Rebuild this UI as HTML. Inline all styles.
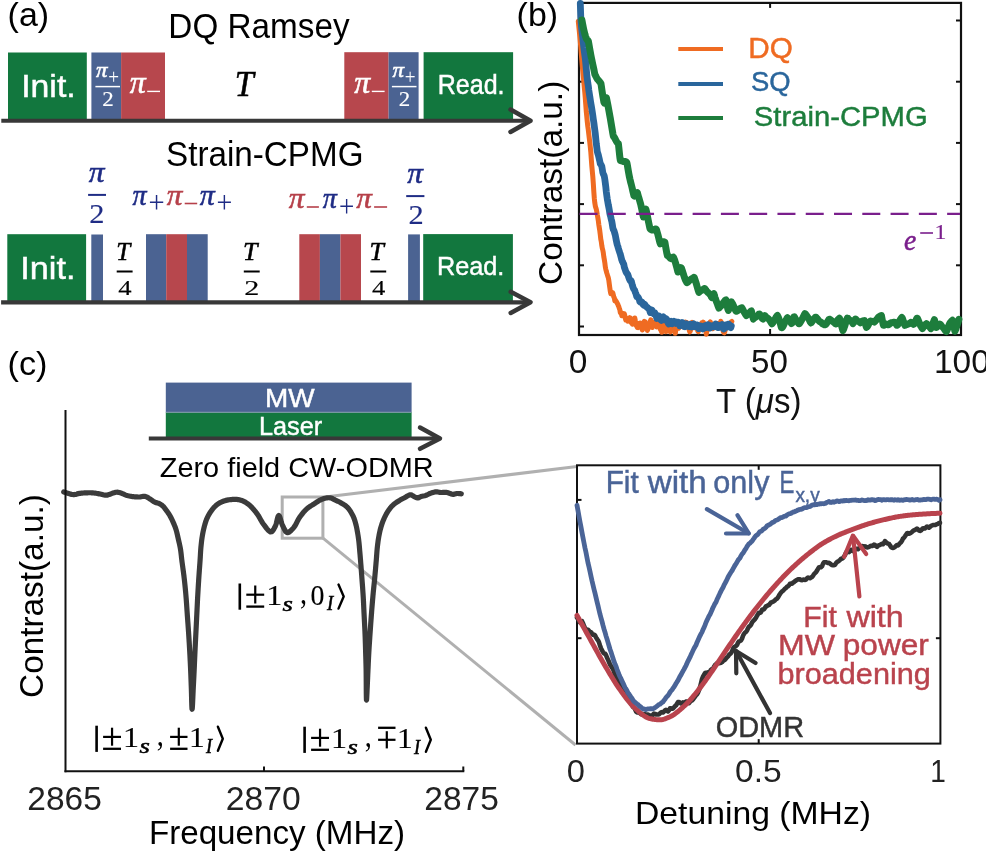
<!DOCTYPE html>
<html><head><meta charset="utf-8"><style>html,body{margin:0;padding:0;background:#fff;}svg{display:block;will-change:transform;}</style></head>
<body><svg width="986" height="851" viewBox="0 0 986 851">
<rect width="986" height="851" fill="#fff"/>
<text transform="translate(7.59,25.80) scale(1.0005,1)" font-family="'Liberation Sans', sans-serif" font-size="33.95" fill="#000">(a)</text>
<text transform="translate(168.37,38.20) scale(0.9665,1)" font-family="'Liberation Sans', sans-serif" font-size="34.45" fill="#000">DQ Ramsey</text>
<rect x="8.00" y="52.50" width="78.80" height="67.50" fill="#12773e"/>
<rect x="91.40" y="52.50" width="29.70" height="67.50" fill="#4b6392"/>
<rect x="121.10" y="52.50" width="43.90" height="67.50" fill="#b7474d"/>
<rect x="344.30" y="52.20" width="44.30" height="67.80" fill="#b7474d"/>
<rect x="388.60" y="52.20" width="30.00" height="67.80" fill="#4b6392"/>
<rect x="423.60" y="52.20" width="89.50" height="67.80" fill="#12773e"/>
<line x1="1.30" y1="120.80" x2="528.00" y2="120.80" stroke="#383838" stroke-width="4" stroke-linecap="butt"/>
<polyline points="510.50,109.50 530.50,120.80 510.50,132.00" fill="none" stroke="#383838" stroke-width="4.5" stroke-linejoin="round" stroke-linecap="round"/>
<text transform="translate(21.18,97.20) scale(1.0923,1)" font-family="'Liberation Sans', sans-serif" font-size="30.96" fill="#fff" stroke="#fff" stroke-width="0.45">Init.</text>
<text transform="translate(437.75,93.80) scale(0.9366,1)" font-family="'Liberation Sans', sans-serif" font-size="26.74" fill="#fff" stroke="#fff" stroke-width="0.45">Read.</text>
<text transform="translate(95.88,76.99) scale(1.0444,1)" font-family="'Liberation Serif', serif" font-style="italic" font-size="21.97" fill="#fff" stroke="#fff" stroke-width="0.55">π</text>
<text transform="translate(108.15,83.76) scale(0.9185,1)" font-family="'Liberation Serif', serif" font-size="20.82" fill="#fff">+</text>
<line x1="95.40" y1="86.60" x2="120.00" y2="86.60" stroke="#fff" stroke-width="1.5" stroke-linecap="butt"/>
<text transform="translate(102.19,106.00) scale(1.1091,1)" font-family="'Liberation Serif', serif" font-size="20.69" fill="#fff" stroke="#fff" stroke-width="0.15">2</text>
<text transform="translate(129.73,93.00) scale(1.0286,1)" font-family="'Liberation Serif', serif" font-style="italic" font-size="30.93" fill="#fff" stroke="#fff" stroke-width="0.55">π</text>
<line x1="147.20" y1="91.40" x2="160.00" y2="91.40" stroke="#fff" stroke-width="1.4" stroke-linecap="butt"/>
<text transform="translate(234.77,95.80) scale(0.9725,1)" font-family="'Liberation Serif', serif" font-style="italic" font-size="34.97" fill="#000" stroke="#000" stroke-width="0.55">T</text>
<text transform="translate(354.33,93.00) scale(1.0286,1)" font-family="'Liberation Serif', serif" font-style="italic" font-size="30.93" fill="#fff" stroke="#fff" stroke-width="0.55">π</text>
<line x1="371.80" y1="91.40" x2="384.60" y2="91.40" stroke="#fff" stroke-width="1.4" stroke-linecap="butt"/>
<text transform="translate(392.38,76.99) scale(1.0444,1)" font-family="'Liberation Serif', serif" font-style="italic" font-size="21.97" fill="#fff" stroke="#fff" stroke-width="0.55">π</text>
<text transform="translate(404.65,83.76) scale(0.9185,1)" font-family="'Liberation Serif', serif" font-size="20.82" fill="#fff">+</text>
<line x1="391.90" y1="86.60" x2="416.50" y2="86.60" stroke="#fff" stroke-width="1.5" stroke-linecap="butt"/>
<text transform="translate(398.69,106.00) scale(1.1091,1)" font-family="'Liberation Serif', serif" font-size="20.69" fill="#fff" stroke="#fff" stroke-width="0.15">2</text>
<text transform="translate(165.99,165.50) scale(0.9607,1)" font-family="'Liberation Sans', sans-serif" font-size="34.59" fill="#000">Strain-CPMG</text>
<rect x="7.30" y="234.20" width="78.80" height="67.80" fill="#12773e"/>
<rect x="91.30" y="234.50" width="11.70" height="67.50" fill="#4b6392"/>
<rect x="146.00" y="234.20" width="20.20" height="67.80" fill="#4b6392"/>
<rect x="166.20" y="234.20" width="20.80" height="67.80" fill="#b7474d"/>
<rect x="187.00" y="234.20" width="20.70" height="67.80" fill="#4b6392"/>
<rect x="299.30" y="234.20" width="20.60" height="67.80" fill="#b7474d"/>
<rect x="319.90" y="234.20" width="20.50" height="67.80" fill="#4b6392"/>
<rect x="340.40" y="234.20" width="20.60" height="67.80" fill="#b7474d"/>
<rect x="408.10" y="234.40" width="11.80" height="67.60" fill="#4b6392"/>
<rect x="423.20" y="234.10" width="89.70" height="67.90" fill="#12773e"/>
<line x1="1.10" y1="302.40" x2="528.00" y2="302.40" stroke="#383838" stroke-width="4.2" stroke-linecap="butt"/>
<polyline points="510.70,291.80 530.50,302.20 510.70,313.00" fill="none" stroke="#383838" stroke-width="4.5" stroke-linejoin="round" stroke-linecap="round"/>
<text transform="translate(20.24,279.10) scale(1.0956,1)" font-family="'Liberation Sans', sans-serif" font-size="31.25" fill="#fff" stroke="#fff" stroke-width="0.45">Init.</text>
<text transform="translate(436.93,275.10) scale(0.9651,1)" font-family="'Liberation Sans', sans-serif" font-size="26.16" fill="#fff" stroke="#fff" stroke-width="0.45">Read.</text>
<text transform="translate(88.73,181.81) scale(1.0525,1)" font-family="'Liberation Serif', serif" font-style="italic" font-size="29.87" fill="#1f2c85" stroke="#1f2c85" stroke-width="0.55">π</text>
<line x1="88.10" y1="194.90" x2="106.00" y2="194.90" stroke="#1f2c85" stroke-width="2" stroke-linecap="butt"/>
<text transform="translate(89.16,222.50) scale(1.0775,1)" font-family="'Liberation Serif', serif" font-size="28.24" fill="#1f2c85" stroke="#1f2c85" stroke-width="0.15">2</text>
<text transform="translate(407.23,183.01) scale(1.0460,1)" font-family="'Liberation Serif', serif" font-style="italic" font-size="29.87" fill="#1f2c85" stroke="#1f2c85" stroke-width="0.55">π</text>
<line x1="406.20" y1="196.10" x2="424.40" y2="196.10" stroke="#1f2c85" stroke-width="2" stroke-linecap="butt"/>
<text transform="translate(408.46,223.70) scale(1.0775,1)" font-family="'Liberation Serif', serif" font-size="28.24" fill="#1f2c85" stroke="#1f2c85" stroke-width="0.15">2</text>
<text transform="translate(132.55,204.51) scale(0.9427,1)" font-family="'Liberation Serif', serif" font-style="italic" font-size="29.87" fill="#1f2c85" stroke="#1f2c85" stroke-width="0.55">π</text>
<text transform="translate(148.38,213.34) scale(0.9310,1)" font-family="'Liberation Serif', serif" font-size="30.70" fill="#1f2c85">+</text>
<text transform="translate(166.63,204.51) scale(1.0460,1)" font-family="'Liberation Serif', serif" font-style="italic" font-size="29.87" fill="#b6404a" stroke="#b6404a" stroke-width="0.55">π</text>
<line x1="184.70" y1="203.50" x2="197.20" y2="203.50" stroke="#b6404a" stroke-width="1.6" stroke-linecap="butt"/>
<text transform="translate(199.84,204.51) scale(1.0008,1)" font-family="'Liberation Serif', serif" font-style="italic" font-size="29.87" fill="#1f2c85" stroke="#1f2c85" stroke-width="0.55">π</text>
<text transform="translate(216.51,213.34) scale(0.9100,1)" font-family="'Liberation Serif', serif" font-size="30.70" fill="#1f2c85">+</text>
<text transform="translate(288.73,207.81) scale(1.0525,1)" font-family="'Liberation Serif', serif" font-style="italic" font-size="29.87" fill="#b6404a" stroke="#b6404a" stroke-width="0.55">π</text>
<line x1="306.80" y1="207.00" x2="318.90" y2="207.00" stroke="#b6404a" stroke-width="1.6" stroke-linecap="butt"/>
<text transform="translate(322.85,207.81) scale(0.9427,1)" font-family="'Liberation Serif', serif" font-style="italic" font-size="29.87" fill="#1f2c85" stroke="#1f2c85" stroke-width="0.55">π</text>
<text transform="translate(339.05,216.54) scale(0.8820,1)" font-family="'Liberation Serif', serif" font-size="30.70" fill="#1f2c85">+</text>
<text transform="translate(356.13,207.81) scale(1.0460,1)" font-family="'Liberation Serif', serif" font-style="italic" font-size="29.87" fill="#b6404a" stroke="#b6404a" stroke-width="0.55">π</text>
<line x1="374.10" y1="207.00" x2="387.10" y2="207.00" stroke="#b6404a" stroke-width="1.6" stroke-linecap="butt"/>
<text transform="translate(116.26,260.00) scale(1.0021,1)" font-family="'Liberation Serif', serif" font-style="italic" font-size="25.05" fill="#000" stroke="#000" stroke-width="0.55">T</text>
<line x1="116.70" y1="271.50" x2="132.60" y2="271.50" stroke="#000" stroke-width="2" stroke-linecap="butt"/>
<text transform="translate(118.28,294.50) scale(1.2541,1)" font-family="'Liberation Serif', serif" font-size="21.27" fill="#000" stroke="#000" stroke-width="0.15">4</text>
<text transform="translate(243.00,260.00) scale(1.0384,1)" font-family="'Liberation Serif', serif" font-style="italic" font-size="25.05" fill="#000" stroke="#000" stroke-width="0.55">T</text>
<line x1="243.80" y1="271.50" x2="259.70" y2="271.50" stroke="#000" stroke-width="2" stroke-linecap="butt"/>
<text transform="translate(244.17,294.50) scale(1.4275,1)" font-family="'Liberation Serif', serif" font-size="21.14" fill="#000" stroke="#000" stroke-width="0.15">2</text>
<text transform="translate(369.61,260.00) scale(1.0312,1)" font-family="'Liberation Serif', serif" font-style="italic" font-size="25.05" fill="#000" stroke="#000" stroke-width="0.55">T</text>
<line x1="370.30" y1="271.50" x2="386.20" y2="271.50" stroke="#000" stroke-width="2" stroke-linecap="butt"/>
<text transform="translate(371.88,294.50) scale(1.2541,1)" font-family="'Liberation Serif', serif" font-size="21.27" fill="#000" stroke="#000" stroke-width="0.15">4</text>
<rect x="579" y="2.9" width="382" height="332.1" fill="none" stroke="#111" stroke-width="2.2"/>
<line x1="579.00" y1="20.50" x2="584.00" y2="20.50" stroke="#111" stroke-width="2" stroke-linecap="butt"/>
<line x1="956.00" y1="20.50" x2="961.00" y2="20.50" stroke="#111" stroke-width="2" stroke-linecap="butt"/>
<line x1="579.00" y1="81.70" x2="584.00" y2="81.70" stroke="#111" stroke-width="2" stroke-linecap="butt"/>
<line x1="956.00" y1="81.70" x2="961.00" y2="81.70" stroke="#111" stroke-width="2" stroke-linecap="butt"/>
<line x1="579.00" y1="142.90" x2="584.00" y2="142.90" stroke="#111" stroke-width="2" stroke-linecap="butt"/>
<line x1="956.00" y1="142.90" x2="961.00" y2="142.90" stroke="#111" stroke-width="2" stroke-linecap="butt"/>
<line x1="579.00" y1="204.10" x2="584.00" y2="204.10" stroke="#111" stroke-width="2" stroke-linecap="butt"/>
<line x1="956.00" y1="204.10" x2="961.00" y2="204.10" stroke="#111" stroke-width="2" stroke-linecap="butt"/>
<line x1="579.00" y1="265.30" x2="584.00" y2="265.30" stroke="#111" stroke-width="2" stroke-linecap="butt"/>
<line x1="956.00" y1="265.30" x2="961.00" y2="265.30" stroke="#111" stroke-width="2" stroke-linecap="butt"/>
<line x1="579.00" y1="326.50" x2="584.00" y2="326.50" stroke="#111" stroke-width="2" stroke-linecap="butt"/>
<line x1="956.00" y1="326.50" x2="961.00" y2="326.50" stroke="#111" stroke-width="2" stroke-linecap="butt"/>
<line x1="770.10" y1="335.00" x2="770.10" y2="329.00" stroke="#111" stroke-width="2" stroke-linecap="butt"/>
<line x1="770.10" y1="2.90" x2="770.10" y2="7.90" stroke="#111" stroke-width="2" stroke-linecap="butt"/>
<polyline points="578.30,21.15 578.80,26.19 579.30,31.32 579.80,36.34 580.30,41.72 580.80,47.52 581.30,54.06 581.80,60.14 582.30,65.93 582.80,71.16 583.30,76.47 583.80,81.72 584.30,87.24 584.80,92.63 585.30,98.36 585.80,105.04 586.30,111.83 586.80,116.71 587.30,122.03 587.80,126.39 588.30,129.94 588.80,134.30 589.30,138.37 589.80,142.42 590.30,146.94 590.80,152.12 591.30,159.12 591.80,165.73 592.30,171.30 592.80,176.59 593.30,183.39 593.80,191.48 594.30,198.22 594.80,202.91 595.30,205.97 595.80,207.80 596.30,209.29 596.80,211.70 597.30,214.87 597.80,217.51 598.30,220.49 598.80,224.58 599.30,227.74 599.80,230.98 600.30,235.01 600.80,239.34 601.30,241.75 601.80,245.56 602.30,248.33 602.80,250.14 603.30,252.76 603.80,256.77 604.30,259.55 604.80,262.54 605.30,266.79 605.80,269.30 606.30,271.25 606.80,273.02 607.30,274.63 607.80,276.39 608.30,277.69 608.80,280.19 609.30,284.18 609.80,287.76 610.30,291.30 610.80,293.62 611.30,293.07 611.80,292.16 612.30,292.83 612.80,292.83 613.30,294.83 613.80,296.99 614.30,297.65 614.80,300.95 615.30,300.78 615.80,300.61 616.30,301.56 616.80,302.32 617.30,303.45 617.80,304.24 618.30,305.56 618.80,306.60 619.30,308.38 619.80,309.65 620.30,312.54 620.80,313.23 621.30,312.98 621.80,315.69 622.30,314.07 622.80,313.50 623.30,314.14 623.80,315.29 624.30,313.70 624.80,315.44 625.30,318.05 625.80,320.03 626.30,318.61 626.80,318.78 627.30,318.61 627.80,321.21 628.30,319.44 628.80,318.89 629.30,318.78 629.80,317.66 630.30,317.99 630.80,318.40 631.30,322.68 631.80,322.94 632.30,324.16 632.80,324.16 633.30,321.12 633.80,322.89 634.30,322.01 634.80,318.05 635.30,320.60 635.80,322.50 636.30,325.51 636.80,326.47 637.30,327.51 637.80,327.62 638.30,325.19 638.80,323.87 639.30,323.36 639.80,324.04 640.30,324.06 640.80,323.15 641.30,326.64 641.80,327.95 642.30,330.00 642.80,326.88 643.30,326.12 643.80,322.84 644.30,321.44 644.80,322.44 645.30,321.90 645.80,325.89 646.30,327.13 646.80,327.27 647.30,330.49 647.80,329.41 648.30,327.73 648.80,325.83 649.30,325.43 649.80,323.98 650.30,321.35 650.80,319.76 651.30,321.41 651.80,323.82 652.30,327.41 652.80,324.78 653.30,322.64 653.80,323.97 654.30,324.25 654.80,322.33 655.30,324.77 655.80,325.50 656.30,325.09 656.80,326.94 657.30,325.62 657.80,323.94 658.30,320.02 658.80,325.18 659.30,326.93 659.80,326.39 660.30,329.42 660.80,329.66 661.30,331.14 661.80,332.24 662.30,330.47 662.80,326.83 663.30,324.76 663.80,321.87 664.30,322.74 664.80,328.71 665.30,331.35 665.80,331.63 666.30,331.61 666.80,329.84 667.30,327.67 667.80,328.26 668.30,326.72 668.80,327.55 669.30,329.13 669.80,330.48 670.30,331.94 670.80,329.13 671.30,327.23 671.80,325.76 672.30,325.61 672.80,326.87 673.30,325.96 673.80,323.85 674.30,325.96 674.80,329.14 675.30,333.36 675.80,330.41 676.30,327.85 676.80,323.09 677.30,325.37 677.80,328.16 678.30,326.65 678.80,328.30 679.30,324.39 679.80,324.68 680.30,323.03 680.80,323.31 681.30,324.43 681.80,326.36 682.30,326.59 682.80,326.67 683.30,326.17 683.80,326.00 684.30,323.69 684.80,322.58 685.30,322.19 685.80,323.63 686.30,324.79 686.80,322.48 687.30,325.08 687.80,323.29 688.30,324.86 688.80,328.27 689.30,330.49 689.80,331.86 690.30,331.14 690.80,327.99 691.30,327.58 691.80,324.63 692.30,322.34 692.80,325.89 693.30,327.75 693.80,327.72 694.30,326.99 694.80,325.62 695.30,327.47 695.80,325.72 696.30,327.26 696.80,328.89 697.30,327.78 697.80,331.04 698.30,331.70 698.80,329.38 699.30,327.97 699.80,326.73 700.30,326.09 700.80,326.43 701.30,325.39 701.80,322.73 702.30,322.97 702.80,325.26 703.30,322.13 703.80,323.26 704.30,324.66 704.80,325.73 705.30,327.35 705.80,329.12 706.30,334.15 706.80,331.07 707.30,329.71 707.80,328.59 708.30,326.23 708.80,326.07 709.30,324.62 709.80,322.50 710.30,321.86 710.80,323.47 711.30,326.22 711.80,326.80 712.30,328.34 712.80,328.68 713.30,326.80 713.80,324.96 714.30,324.17 714.80,324.28 715.30,326.48 715.80,326.66 716.30,326.40 716.80,327.34 717.30,327.17 717.80,323.63 718.30,324.23 718.80,327.38 719.30,326.88 719.80,327.61 720.30,327.21 720.80,321.26 721.30,322.45 721.80,324.08 722.30,325.69 722.80,329.19 723.30,331.70 723.80,332.48 724.30,332.77 724.80,331.65 725.30,329.36 725.80,327.51 726.30,324.21 726.80,324.20 727.30,326.09 727.80,326.43 728.30,327.34 728.80,324.37 729.30,324.06 729.80,323.75 730.30,325.35 730.80,323.42 731.30,321.83 731.80,321.46" fill="none" stroke="#ef6b22" stroke-width="5" stroke-linejoin="round" stroke-linecap="round"/>
<polyline points="580.30,3.46 580.80,18.06 581.30,25.04 581.80,29.76 582.30,33.94 582.80,38.21 583.30,42.64 583.80,47.59 584.30,51.39 584.80,55.15 585.30,58.58 585.80,63.56 586.30,69.26 586.80,75.01 587.30,79.03 587.80,82.86 588.30,85.93 588.80,90.16 589.30,93.46 589.80,96.65 590.30,99.71 590.80,103.17 591.30,105.94 591.80,108.75 592.30,111.94 592.80,115.53 593.30,119.10 593.80,122.25 594.30,126.10 594.80,129.92 595.30,133.79 595.80,138.90 596.30,143.77 596.80,147.45 597.30,151.55 597.80,153.41 598.30,154.93 598.80,156.97 599.30,159.11 599.80,161.39 600.30,163.78 600.80,164.36 601.30,165.20 601.80,166.39 602.30,169.23 602.80,172.49 603.30,174.04 603.80,174.79 604.30,176.37 604.80,179.26 605.30,182.96 605.80,186.92 606.30,191.86 606.80,195.68 607.30,199.11 607.80,202.03 608.30,204.80 608.80,207.25 609.30,210.00 609.80,213.22 610.30,215.39 610.80,217.20 611.30,219.57 611.80,221.46 612.30,224.29 612.80,227.63 613.30,229.52 613.80,230.31 614.30,231.65 614.80,233.57 615.30,235.25 615.80,237.98 616.30,240.50 616.80,242.91 617.30,244.91 617.80,246.25 618.30,248.03 618.80,249.65 619.30,251.20 619.80,252.80 620.30,254.17 620.80,256.23 621.30,258.09 621.80,260.03 622.30,261.54 622.80,262.10 623.30,263.46 623.80,264.31 624.30,267.12 624.80,268.56 625.30,269.94 625.80,271.46 626.30,272.35 626.80,273.32 627.30,273.88 627.80,274.43 628.30,275.98 628.80,277.59 629.30,278.93 629.80,279.90 630.30,280.86 630.80,280.89 631.30,280.91 631.80,283.21 632.30,285.08 632.80,286.78 633.30,288.13 633.80,289.01 634.30,289.70 634.80,290.63 635.30,292.33 635.80,293.36 636.30,295.07 636.80,296.70 637.30,296.58 637.80,296.95 638.30,297.57 638.80,298.61 639.30,299.70 639.80,301.49 640.30,302.08 640.80,302.01 641.30,301.80 641.80,301.81 642.30,302.56 642.80,304.09 643.30,304.58 643.80,305.24 644.30,305.07 644.80,304.38 645.30,305.95 645.80,306.31 646.30,306.59 646.80,307.11 647.30,307.40 647.80,307.95 648.30,308.66 648.80,308.67 649.30,309.06 649.80,310.76 650.30,312.61 650.80,311.65 651.30,311.56 651.80,309.90 652.30,310.65 652.80,311.78 653.30,313.26 653.80,313.88 654.30,313.71 654.80,312.83 655.30,313.95 655.80,315.17 656.30,316.58 656.80,318.52 657.30,318.42 657.80,317.54 658.30,317.00 658.80,315.93 659.30,316.31 659.80,316.54 660.30,318.28 660.80,319.80 661.30,320.42 661.80,319.37 662.30,318.52 662.80,317.23 663.30,316.85 663.80,318.12 664.30,318.52 664.80,319.92 665.30,320.16 665.80,319.29 666.30,318.92 666.80,319.57 667.30,320.53 667.80,321.94 668.30,323.26 668.80,323.96 669.30,322.97 669.80,321.45 670.30,321.52 670.80,322.00 671.30,321.23 671.80,322.02 672.30,323.64 672.80,322.78 673.30,321.50 673.80,321.28 674.30,321.64 674.80,322.80 675.30,323.00 675.80,323.53 676.30,323.42 676.80,322.09 677.30,322.59 677.80,322.81 678.30,322.28 678.80,322.76 679.30,324.06 679.80,325.82 680.30,325.54 680.80,324.29 681.30,324.38 681.80,323.44 682.30,322.46 682.80,322.84 683.30,324.74 683.80,325.23 684.30,326.68 684.80,326.79 685.30,325.88 685.80,324.22 686.30,323.84 686.80,325.12 687.30,326.27 687.80,326.36 688.30,325.83 688.80,326.40 689.30,325.81 689.80,324.26 690.30,324.18 690.80,325.39 691.30,325.57 691.80,326.93 692.30,326.45 692.80,326.08 693.30,324.60 693.80,323.96 694.30,326.42 694.80,326.60 695.30,325.70 695.80,325.60 696.30,326.10 696.80,324.90 697.30,324.98 697.80,325.03 698.30,325.87 698.80,328.72 699.30,328.70 699.80,326.77 700.30,326.45 700.80,326.01 701.30,326.38 701.80,326.68 702.30,327.81 702.80,328.86 703.30,328.42 703.80,328.09 704.30,327.18 704.80,325.57 705.30,325.51 705.80,327.00 706.30,327.36 706.80,326.11 707.30,325.09 707.80,324.68 708.30,324.79 708.80,325.66 709.30,327.01 709.80,328.08 710.30,327.13 710.80,326.19 711.30,325.81 711.80,325.85 712.30,326.63 712.80,326.34 713.30,325.72 713.80,326.75 714.30,326.57 714.80,326.17 715.30,325.54 715.80,324.03 716.30,325.11 716.80,326.33 717.30,326.15 717.80,327.59 718.30,327.68 718.80,326.67 719.30,325.33 719.80,325.59 720.30,325.65 720.80,326.46 721.30,326.89 721.80,326.45 722.30,324.55 722.80,325.19 723.30,327.18 723.80,328.98 724.30,326.46 724.80,325.08 725.30,324.91 725.80,325.79 726.30,326.00 726.80,327.22 727.30,327.21 727.80,325.90 728.30,324.15 728.80,324.06 729.30,325.02 729.80,326.42 730.30,326.97 730.80,327.56 731.30,325.90" fill="none" stroke="#2a669c" stroke-width="6.8" stroke-linejoin="round" stroke-linecap="round"/>
<polyline points="581.90,20.00 582.40,22.89 582.90,25.52 583.40,27.94 583.90,30.19 584.40,32.31 584.90,34.27 585.40,36.02 585.90,37.49 586.40,38.66 586.90,39.51 587.40,40.09 587.90,40.45 588.40,41.31 588.90,44.16 589.40,47.03 589.90,49.87 590.40,52.65 590.90,55.33 591.40,57.89 591.90,60.32 592.40,62.63 592.90,64.89 593.40,67.18 593.90,69.58 594.40,72.15 594.90,74.45 595.40,75.31 595.90,76.30 596.40,77.31 596.90,78.25 597.40,79.05 597.90,79.71 598.40,80.26 598.90,80.79 599.40,81.37 599.90,82.03 600.40,82.71 600.90,83.33 601.40,86.59 601.90,90.05 602.40,93.27 602.90,96.32 603.40,99.28 603.90,102.21 604.40,103.14 604.90,101.58 605.40,100.17 605.90,98.85 606.40,97.62 606.90,100.12 607.40,102.66 607.90,105.26 608.40,107.91 608.90,110.60 609.40,113.33 609.90,116.09 610.40,118.92 610.90,121.86 611.40,124.85 611.90,127.83 612.40,130.81 612.90,133.84 613.40,136.46 613.90,136.88 614.40,137.52 614.90,138.37 615.40,139.33 615.90,140.33 616.40,141.26 616.90,142.08 617.40,142.75 617.90,143.31 618.40,143.75 618.90,148.49 619.40,153.19 619.90,157.64 620.40,160.57 620.90,160.69 621.40,160.77 621.90,160.88 622.40,161.06 622.90,161.29 623.40,161.49 623.90,161.59 624.40,161.59 624.90,161.54 625.40,161.54 625.90,161.72 626.40,162.15 626.90,162.85 627.40,165.46 627.90,168.39 628.40,171.34 628.90,174.15 629.40,176.72 629.90,179.03 630.40,181.10 630.90,183.05 631.40,185.00 631.90,187.03 632.40,189.17 632.90,191.36 633.40,193.55 633.90,195.68 634.40,196.01 634.90,195.40 635.40,194.82 635.90,194.28 636.40,193.78 636.90,193.28 637.40,192.76 637.90,194.58 638.40,196.37 638.90,198.08 639.40,199.73 639.90,201.40 640.40,203.20 640.90,205.18 641.40,207.40 641.90,209.82 642.40,212.32 642.90,214.76 643.40,216.98 643.90,216.89 644.40,215.04 644.90,212.97 645.40,210.86 645.90,209.20 646.40,211.30 646.90,213.64 647.40,216.14 647.90,218.70 648.40,221.21 648.90,223.64 649.40,226.00 649.90,228.33 650.40,229.15 650.90,229.48 651.40,229.77 651.90,229.97 652.40,230.06 652.90,230.04 653.40,229.91 653.90,229.70 654.40,229.46 654.90,229.22 655.40,229.04 655.90,228.93 656.40,229.43 656.90,231.12 657.40,232.87 657.90,234.69 658.40,236.59 658.90,238.57 659.40,240.58 659.90,242.58 660.40,243.86 660.90,243.56 661.40,243.12 661.90,242.61 662.40,242.16 662.90,241.85 663.40,241.74 663.90,241.78 664.40,241.86 664.90,242.26 665.40,245.29 665.90,248.16 666.40,250.88 666.90,253.53 667.40,255.54 667.90,255.76 668.40,256.10 668.90,256.59 669.40,257.17 669.90,257.76 670.40,258.27 670.90,258.60 671.40,258.68 671.90,258.51 672.40,258.14 672.90,257.67 673.40,257.23 673.90,258.15 674.40,259.45 674.90,260.92 675.40,262.52 675.90,264.22 676.40,266.03 676.90,267.94 677.40,269.95 677.90,272.01 678.40,271.80 678.90,271.21 679.40,270.49 679.90,269.63 680.40,268.66 680.90,267.65 681.40,268.06 681.90,269.44 682.40,270.92 682.90,272.48 683.40,274.10 683.90,275.72 684.40,277.27 684.90,278.67 685.40,279.89 685.90,280.92 686.40,281.82 686.90,282.68 687.40,282.61 687.90,282.02 688.40,281.50 688.90,281.04 689.40,280.60 689.90,280.16 690.40,279.73 690.90,279.34 691.40,278.99 691.90,278.68 692.40,278.39 692.90,278.11 693.40,277.76 693.90,277.33 694.40,277.74 694.90,279.27 695.40,280.79 695.90,282.37 696.40,284.06 696.90,285.83 697.40,287.61 697.90,289.30 698.40,290.89 698.90,292.34 699.40,291.77 699.90,291.28 700.40,290.90 700.90,290.64 701.40,290.45 701.90,290.27 702.40,290.06 702.90,289.77 703.40,289.40 703.90,288.96 704.40,288.48 704.90,288.58 705.40,289.35 705.90,290.11 706.40,290.82 706.90,291.46 707.40,292.02 707.90,292.49 708.40,292.90 708.90,293.31 709.40,293.76 709.90,294.30 710.40,294.98 710.90,295.82 711.40,296.83 711.90,297.63 712.40,296.42 712.90,295.29 713.40,294.17 713.90,293.67 714.40,295.56 714.90,297.26 715.40,298.79 715.90,300.18 716.40,301.50 716.90,302.80 717.40,304.13 717.90,305.52 718.40,306.97 718.90,308.15 719.40,307.60 719.90,307.09 720.40,306.60 720.90,306.11 721.40,305.57 721.90,304.96 722.40,304.27 722.90,303.52 723.40,302.75 723.90,302.00 724.40,301.31 724.90,300.68 725.40,300.09 725.90,299.84 726.40,302.33 726.90,304.75 727.40,307.05 727.90,309.23 728.40,310.46 728.90,308.86 729.40,307.26 729.90,305.70 730.40,304.20 730.90,302.79 731.40,301.90 731.90,302.64 732.40,303.50 732.90,304.45 733.40,305.49 733.90,306.59 734.40,307.72 734.90,308.87 735.40,310.00 735.90,311.06 736.40,311.29 736.90,311.07 737.40,310.76 737.90,310.37 738.40,309.93 738.90,309.48 739.40,309.04 739.90,308.64 740.40,308.29 740.90,308.00 741.40,307.74 741.90,307.82 742.40,308.73 742.90,309.64 743.40,310.57 743.90,311.54 744.40,312.50 744.90,313.40 745.40,314.20 745.90,314.90 746.40,315.55 746.90,315.05 747.40,314.22 747.90,313.61 748.40,313.20 748.90,312.91 749.40,312.65 749.90,312.32 750.40,311.84 750.90,311.16 751.40,310.92 751.90,313.16 752.40,315.22 752.90,317.20 753.40,319.08 753.90,318.38 754.40,317.85 754.90,317.48 755.40,317.22 755.90,316.99 756.40,316.73 756.90,316.41 757.40,315.99 757.90,315.47 758.40,314.85 758.90,314.15 759.40,313.98 759.90,314.50 760.40,315.06 760.90,315.69 761.40,316.46 761.90,317.41 762.40,318.55 762.90,319.01 763.40,318.22 763.90,317.46 764.40,316.60 764.90,315.57 765.40,316.26 765.90,316.81 766.40,317.25 766.90,317.64 767.40,318.01 767.90,318.39 768.40,318.80 768.90,319.27 769.40,319.84 769.90,320.53 770.40,321.35 770.90,322.24 771.40,323.13 771.90,323.86 772.40,323.33 772.90,322.62 773.40,321.78 773.90,320.91 774.40,320.07 774.90,319.28 775.40,318.52 775.90,317.71 776.40,316.82 776.90,315.86 777.40,315.45 777.90,316.35 778.40,317.44 778.90,318.79 779.40,320.36 779.90,322.10 780.40,323.95 780.90,325.80 781.40,327.60 781.90,327.70 782.40,327.21 782.90,326.49 783.40,325.56 783.90,324.48 784.40,323.36 784.90,322.27 785.40,321.25 785.90,320.31 786.40,319.38 786.90,318.39 787.40,317.77 787.90,318.25 788.40,318.68 788.90,319.15 789.40,319.75 789.90,320.52 790.40,321.47 790.90,322.51 791.40,323.58 791.90,323.29 792.40,321.74 792.90,320.15 793.40,318.54 793.90,316.96 794.40,316.83 794.90,317.78 795.40,318.76 795.90,319.71 796.40,320.56 796.90,321.30 797.40,321.92 797.90,322.49 798.40,323.05 798.90,323.66 799.40,323.65 799.90,322.84 800.40,322.05 800.90,321.27 801.40,320.44 801.90,319.55 802.40,318.61 802.90,317.64 803.40,316.65 803.90,315.66 804.40,314.68 804.90,313.73 805.40,313.97 805.90,314.59 806.40,315.27 806.90,315.99 807.40,316.72 807.90,317.47 808.40,318.26 808.90,319.13 809.40,320.10 809.90,321.15 810.40,322.19 810.90,322.95 811.40,322.46 811.90,321.79 812.40,321.03 812.90,320.25 813.40,319.53 813.90,318.90 814.40,318.33 814.90,317.76 815.40,317.15 815.90,317.20 816.40,317.73 816.90,318.28 817.40,318.87 817.90,319.50 818.40,320.14 818.90,320.74 819.40,321.26 819.90,321.65 820.40,321.94 820.90,322.20 821.40,322.53 821.90,323.06 822.40,323.81 822.90,324.01 823.40,324.29 823.90,324.58 824.40,324.79 824.90,324.85 825.40,324.71 825.90,324.33 826.40,323.73 826.90,322.94 827.40,322.02 827.90,321.09 828.40,320.24 828.90,319.56 829.40,319.15 829.90,319.32 830.40,319.65 830.90,320.07 831.40,320.51 831.90,320.92 832.40,321.28 832.90,321.61 833.40,321.95 833.90,322.35 834.40,322.82 834.90,323.29 835.40,323.70 835.90,323.87 836.40,322.88 836.90,321.81 837.40,320.76 837.90,319.84 838.40,319.14 838.90,318.64 839.40,318.25 839.90,319.14 840.40,321.29 840.90,323.30 841.40,325.18 841.90,327.00 842.40,328.82 842.90,330.67 843.40,329.57 843.90,328.34 844.40,326.93 844.90,325.34 845.40,323.64 845.90,321.97 846.40,320.46 846.90,319.17 847.40,318.07 847.90,318.30 848.40,319.08 848.90,319.65 849.40,320.02 849.90,320.26 850.40,320.49 850.90,320.80 851.40,321.27 851.90,321.91 852.40,322.71 852.90,323.60 853.40,322.70 853.90,321.79 854.40,320.88 854.90,319.97 855.40,319.08 855.90,319.28 856.40,319.97 856.90,320.54 857.40,320.95 857.90,321.23 858.40,321.44 858.90,321.66 859.40,321.93 859.90,322.29 860.40,322.71 860.90,322.18 861.40,321.73 861.90,321.37 862.40,321.09 862.90,320.90 863.40,320.77 863.90,320.67 864.40,320.58 864.90,321.88 865.40,323.82 865.90,325.70 866.40,327.33 866.90,327.03 867.40,326.46 867.90,325.64 868.40,324.65 868.90,323.60 869.40,322.61 869.90,321.75 870.40,321.02 870.90,321.10 871.40,321.25 871.90,321.36 872.40,321.43 872.90,321.50 873.40,321.62 873.90,321.83 874.40,322.14 874.90,321.53 875.40,320.98 875.90,320.42 876.40,319.82 876.90,319.18 877.40,318.53 877.90,317.90 878.40,317.32 878.90,316.84 879.40,316.46 879.90,316.17 880.40,315.94 880.90,315.72 881.40,315.52 881.90,318.15 882.40,320.66 882.90,323.04 883.40,325.33 883.90,325.25 884.40,324.74 884.90,324.34 885.40,324.09 885.90,324.02 886.40,324.11 886.90,324.32 887.40,324.57 887.90,324.77 888.40,324.80 888.90,324.60 889.40,324.15 889.90,323.51 890.40,322.90 890.90,322.83 891.40,322.76 891.90,322.69 892.40,322.60 892.90,322.46 893.40,322.30 893.90,322.18 894.40,322.19 894.90,322.42 895.40,322.91 895.90,323.64 896.40,324.49 896.90,325.32 897.40,325.17 897.90,324.54 898.40,323.63 898.90,322.54 899.40,321.39 899.90,320.32 900.40,319.40 900.90,318.64 901.40,318.01 901.90,317.47 902.40,318.40 902.90,319.92 903.40,321.40 903.90,322.83 904.40,324.20 904.90,325.36 905.40,325.15 905.90,324.91 906.40,324.68 906.90,324.48 907.40,324.31 907.90,324.16 908.40,324.01 908.90,323.81 909.40,323.54 909.90,323.18 910.40,322.76 910.90,322.32 911.40,322.50 911.90,322.81 912.40,323.23 912.90,323.75 913.40,324.33 913.90,324.10 914.40,323.29 914.90,322.42 915.40,321.46 915.90,320.42 916.40,319.34 916.90,318.27 917.40,318.34 917.90,319.42 918.40,320.60 918.90,321.84 919.40,323.07 919.90,324.23 920.40,325.30 920.90,326.24 921.40,327.08 921.90,327.84 922.40,328.58 922.90,327.92 923.40,326.87 923.90,326.00 924.40,325.31 924.90,324.79 925.40,324.40 925.90,324.05 926.40,323.66 926.90,324.00 927.40,324.84 927.90,325.47 928.40,325.95 928.90,326.36 929.40,326.79 929.90,327.31 930.40,327.92 930.90,328.62 931.40,327.45 931.90,326.22 932.40,324.96 932.90,323.64 933.40,322.27 933.90,320.84 934.40,319.71 934.90,321.64 935.40,323.59 935.90,325.62 936.40,327.47 936.90,326.96 937.40,326.48 937.90,326.01 938.40,325.52 938.90,325.03 939.40,324.56 939.90,324.13 940.40,324.37 940.90,325.04 941.40,325.69 941.90,326.29 942.40,326.84 942.90,327.36 943.40,327.89 943.90,328.49 944.40,329.17 944.90,329.90 945.40,330.61 945.90,331.21 946.40,331.54 946.90,330.62 947.40,329.46 947.90,328.11 948.40,326.70 948.90,325.34 949.40,324.17 949.90,323.21 950.40,322.45 950.90,321.82 951.40,321.27 951.90,320.76 952.40,320.32 952.90,321.34 953.40,323.83 953.90,326.39 954.40,328.95 954.90,331.31 955.40,330.17 955.90,328.87 956.40,327.43 956.90,325.89 957.40,324.30 957.90,322.67 958.40,321.01 958.90,319.34" fill="none" stroke="#1d7d3c" stroke-width="7.0" stroke-linejoin="round" stroke-linecap="round"/>
<line x1="579.50" y1="213.90" x2="960.00" y2="213.90" stroke="#7a1f8c" stroke-width="2.4" stroke-linecap="butt" stroke-dasharray="18 10.28"/>
<text transform="translate(903.95,249.90) scale(0.9108,1)" font-family="'Liberation Serif', serif" font-style="italic" font-size="30.36" fill="#7a1f8c" stroke="#7a1f8c" stroke-width="0.55">e</text>
<line x1="920.20" y1="233.00" x2="933.00" y2="233.00" stroke="#7a1f8c" stroke-width="1.6" stroke-linecap="butt"/>
<text transform="translate(934.50,239.00) scale(1.1251,1)" font-family="'Liberation Serif', serif" font-size="21.21" fill="#7a1f8c" stroke="#7a1f8c" stroke-width="0.15">1</text>
<line x1="678.30" y1="49.00" x2="723.00" y2="49.00" stroke="#ef6b22" stroke-width="4" stroke-linecap="butt"/>
<line x1="678.30" y1="83.90" x2="723.00" y2="83.90" stroke="#2a669c" stroke-width="4" stroke-linecap="butt"/>
<line x1="678.30" y1="118.10" x2="723.00" y2="118.10" stroke="#1d7d3c" stroke-width="4" stroke-linecap="butt"/>
<text transform="translate(748.26,58.00) scale(1.0322,1)" font-family="'Liberation Sans', sans-serif" font-size="28.78" fill="#ef6b22" stroke="#ef6b22" stroke-width="0.45">DQ</text>
<text transform="translate(750.95,90.80) scale(0.9888,1)" font-family="'Liberation Sans', sans-serif" font-size="27.76" fill="#2a669c" stroke="#2a669c" stroke-width="0.45">SQ</text>
<text transform="translate(753.87,125.80) scale(1.0537,1)" font-family="'Liberation Sans', sans-serif" font-size="27.76" fill="#1d7d3c" stroke="#1d7d3c" stroke-width="0.45">Strain-CPMG</text>
<text transform="translate(568.69,373.10) scale(0.9988,1)" font-family="'Liberation Sans', sans-serif" font-size="33.51" fill="#111">0</text>
<text transform="translate(750.97,373.10) scale(0.9906,1)" font-family="'Liberation Sans', sans-serif" font-size="33.51" fill="#111">50</text>
<text transform="translate(933.95,373.10) scale(0.9990,1)" font-family="'Liberation Sans', sans-serif" font-size="33.51" fill="#111">100</text>
<text transform="translate(716.06,412.90) scale(0.9640,1)" font-family="'Liberation Sans', sans-serif" font-size="34.30" fill="#111">T (<tspan font-style="italic">μ</tspan>s)</text>
<text transform="translate(516.60,25.90) scale(1.0019,1)" font-family="'Liberation Sans', sans-serif" font-size="33.81" fill="#000">(b)</text>
<text transform="translate(562.10,285.00) rotate(-90) scale(0.9969,1)" font-family="'Liberation Sans', sans-serif" font-size="33.54" fill="#000">Contrast(a.u.)</text>
<text transform="translate(7.58,374.90) scale(1.0175,1)" font-family="'Liberation Sans', sans-serif" font-size="33.67" fill="#000">(c)</text>
<rect x="165.80" y="382.60" width="245.80" height="29.40" fill="#4b6392"/>
<rect x="165.80" y="412.00" width="245.80" height="26.00" fill="#12773e"/>
<line x1="165.80" y1="412.30" x2="411.60" y2="412.30" stroke="#8fa2b8" stroke-width="1" stroke-linecap="butt"/>
<line x1="148.80" y1="438.40" x2="438.00" y2="438.40" stroke="#383838" stroke-width="4" stroke-linecap="butt"/>
<polyline points="420.00,427.60 440.00,438.40 420.00,448.80" fill="none" stroke="#383838" stroke-width="4.5" stroke-linejoin="round" stroke-linecap="round"/>
<text transform="translate(265.01,407.10) scale(1.0909,1)" font-family="'Liberation Sans', sans-serif" font-size="25.58" fill="#fff" stroke="#fff" stroke-width="0.45">MW</text>
<text transform="translate(258.93,435.40) scale(0.9550,1)" font-family="'Liberation Sans', sans-serif" font-size="26.45" fill="#fff" stroke="#fff" stroke-width="0.45">Laser</text>
<text transform="translate(159.78,477.10) scale(1.0196,1)" font-family="'Liberation Sans', sans-serif" font-size="28.34" fill="#000">Zero field CW-ODMR</text>
<line x1="323.00" y1="497.30" x2="577.00" y2="466.50" stroke="#b0b0b0" stroke-width="3" stroke-linecap="butt"/>
<line x1="323.00" y1="538.20" x2="575.50" y2="745.00" stroke="#b0b0b0" stroke-width="3" stroke-linecap="butt"/>
<rect x="282.2" y="497" width="40.7" height="41.2" fill="none" stroke="#b0b0b0" stroke-width="3"/>
<path d="M63.70,491.90 L64.68,492.19 L65.67,492.52 L66.68,492.86 L67.68,493.21 L68.69,493.55 L69.68,493.86 L70.65,494.14 L71.60,494.36 L72.52,494.52 L73.40,494.60 L74.47,494.56 L75.45,494.39 L76.40,494.14 L77.36,493.86 L78.37,493.60 L79.50,493.40 L80.37,493.30 L81.30,493.20 L82.28,493.11 L83.30,493.03 L84.35,492.95 L85.42,492.89 L86.50,492.83 L87.57,492.79 L88.62,492.77 L89.66,492.76 L90.65,492.77 L91.60,492.80 L92.76,492.87 L93.89,492.98 L95.00,493.12 L96.09,493.29 L97.16,493.46 L98.20,493.65 L99.21,493.83 L100.20,494.00 L101.24,494.22 L102.22,494.49 L103.16,494.77 L104.11,495.01 L105.11,495.16 L106.20,495.20 L107.08,495.10 L108.00,494.89 L108.97,494.59 L109.96,494.23 L110.99,493.83 L112.02,493.42 L113.07,493.03 L114.12,492.69 L115.16,492.42 L116.19,492.25 L117.20,492.20 L118.20,492.29 L119.20,492.48 L120.20,492.77 L121.20,493.12 L122.19,493.52 L123.19,493.95 L124.19,494.39 L125.19,494.81 L126.19,495.20 L127.19,495.54 L128.20,495.80 L129.30,496.02 L130.42,496.22 L131.55,496.40 L132.70,496.55 L133.83,496.69 L134.96,496.79 L136.05,496.88 L137.12,496.94 L138.14,496.98 L139.10,497.00 L140.23,496.93 L141.30,496.77 L142.32,496.56 L143.31,496.39 L144.26,496.32 L145.20,496.40 L146.22,496.71 L147.19,497.19 L148.13,497.77 L149.06,498.40 L150.00,499.00 L151.01,499.66 L152.04,500.39 L153.05,501.12 L154.05,501.78 L155.00,502.30 L156.12,502.66 L157.20,502.87 L158.30,503.20 L159.32,503.66 L160.37,504.20 L161.41,504.84 L162.40,505.60 L163.13,506.29 L163.85,507.09 L164.54,507.94 L165.21,508.84 L165.86,509.73 L166.50,510.60 L167.20,511.56 L167.88,512.51 L168.53,513.47 L169.17,514.46 L169.80,515.50 L170.30,516.38 L170.79,517.28 L171.27,518.22 L171.74,519.17 L172.21,520.14 L172.66,521.12 L173.10,522.10 L173.55,523.12 L173.99,524.14 L174.42,525.17 L174.84,526.21 L175.24,527.28 L175.63,528.37 L176.00,529.50 L176.28,530.42 L176.54,531.38 L176.80,532.35 L177.04,533.34 L177.28,534.35 L177.51,535.36 L177.73,536.38 L177.95,537.40 L178.18,538.40 L178.40,539.40 L178.63,540.38 L178.85,541.35 L179.08,542.32 L179.30,543.29 L179.52,544.27 L179.73,545.24 L179.94,546.22 L180.14,547.20 L180.33,548.20 L180.50,549.20 L180.66,550.24 L180.81,551.28 L180.94,552.31 L181.06,553.34 L181.18,554.39 L181.29,555.45 L181.40,556.54 L181.52,557.65 L181.65,558.80 L181.80,560.00 L181.91,560.89 L182.03,561.82 L182.16,562.76 L182.29,563.73 L182.43,564.71 L182.56,565.72 L182.70,566.73 L182.84,567.76 L182.99,568.80 L183.13,569.85 L183.27,570.90 L183.41,571.96 L183.55,573.01 L183.69,574.06 L183.83,575.11 L183.96,576.15 L184.08,577.18 L184.20,578.20 L184.32,579.21 L184.43,580.22 L184.54,581.23 L184.65,582.24 L184.76,583.25 L184.86,584.26 L184.97,585.27 L185.07,586.28 L185.17,587.29 L185.27,588.30 L185.36,589.32 L185.46,590.33 L185.55,591.34 L185.65,592.35 L185.74,593.36 L185.83,594.37 L185.91,595.39 L186.00,596.40 L186.08,597.41 L186.17,598.43 L186.25,599.45 L186.32,600.46 L186.40,601.48 L186.47,602.50 L186.54,603.51 L186.61,604.53 L186.68,605.55 L186.75,606.57 L186.82,607.58 L186.89,608.60 L186.95,609.62 L187.02,610.64 L187.09,611.65 L187.16,612.67 L187.23,613.68 L187.30,614.70 L187.37,615.71 L187.45,616.72 L187.52,617.74 L187.59,618.75 L187.67,619.76 L187.74,620.77 L187.81,621.78 L187.89,622.79 L187.96,623.80 L188.04,624.81 L188.11,625.82 L188.18,626.83 L188.25,627.85 L188.32,628.86 L188.39,629.87 L188.46,630.88 L188.53,631.89 L188.60,632.90 L188.67,633.91 L188.73,634.92 L188.80,635.93 L188.86,636.94 L188.93,637.95 L188.99,638.97 L189.05,639.98 L189.11,640.99 L189.17,642.00 L189.24,643.01 L189.30,644.02 L189.36,645.03 L189.41,646.04 L189.47,647.06 L189.53,648.07 L189.59,649.08 L189.64,650.09 L189.70,651.10 L189.76,652.11 L189.81,653.12 L189.86,654.13 L189.92,655.14 L189.97,656.16 L190.02,657.17 L190.07,658.18 L190.12,659.19 L190.17,660.20 L190.22,661.21 L190.27,662.22 L190.32,663.23 L190.37,664.24 L190.42,665.26 L190.46,666.27 L190.51,667.28 L190.56,668.29 L190.60,669.30 L190.64,670.31 L190.69,671.31 L190.73,672.31 L190.77,673.31 L190.81,674.31 L190.85,675.31 L190.89,676.30 L190.92,677.30 L190.96,678.30 L191.00,679.30 L191.03,680.31 L191.07,681.31 L191.11,682.33 L191.15,683.35 L191.18,684.37 L191.22,685.41 L191.26,686.45 L191.30,687.50 L191.34,688.54 L191.37,689.67 L191.41,690.88 L191.44,692.15 L191.48,693.47 L191.51,694.83 L191.55,696.20 L191.58,697.58 L191.62,698.94 L191.65,700.29 L191.69,701.59 L191.73,702.84 L191.76,704.01 L191.80,705.11 L191.84,706.11 L191.88,706.99 L191.92,707.75 L191.96,708.36 L192.01,708.82 L192.05,709.10 L192.10,709.20 L192.15,709.10 L192.20,708.82 L192.25,708.36 L192.31,707.75 L192.36,706.99 L192.42,706.11 L192.48,705.11 L192.54,704.02 L192.60,702.84 L192.66,701.59 L192.72,700.29 L192.78,698.95 L192.84,697.58 L192.90,696.20 L192.96,694.83 L193.02,693.47 L193.08,692.15 L193.14,690.88 L193.19,689.67 L193.25,688.54 L193.30,687.50 L193.35,686.45 L193.41,685.41 L193.46,684.37 L193.51,683.35 L193.57,682.33 L193.62,681.32 L193.67,680.31 L193.72,679.30 L193.77,678.30 L193.82,677.30 L193.87,676.30 L193.91,675.31 L193.96,674.31 L194.01,673.31 L194.06,672.31 L194.11,671.31 L194.15,670.31 L194.20,669.30 L194.25,668.29 L194.29,667.28 L194.34,666.27 L194.38,665.26 L194.43,664.24 L194.47,663.23 L194.51,662.22 L194.56,661.21 L194.60,660.20 L194.64,659.19 L194.69,658.18 L194.73,657.17 L194.77,656.16 L194.82,655.14 L194.86,654.13 L194.91,653.12 L194.95,652.11 L195.00,651.10 L195.05,650.09 L195.10,649.08 L195.14,648.07 L195.19,647.06 L195.24,646.04 L195.29,645.03 L195.34,644.02 L195.39,643.01 L195.44,642.00 L195.49,640.99 L195.55,639.98 L195.60,638.97 L195.65,637.96 L195.70,636.94 L195.75,635.93 L195.80,634.92 L195.85,633.91 L195.90,632.90 L195.95,631.89 L196.00,630.88 L196.05,629.87 L196.10,628.86 L196.15,627.85 L196.20,626.84 L196.25,625.82 L196.30,624.81 L196.35,623.80 L196.40,622.79 L196.45,621.78 L196.50,620.77 L196.55,619.76 L196.60,618.75 L196.65,617.74 L196.70,616.72 L196.75,615.71 L196.80,614.70 L196.85,613.68 L196.90,612.67 L196.95,611.65 L197.00,610.64 L197.04,609.62 L197.09,608.60 L197.14,607.58 L197.19,606.57 L197.24,605.55 L197.29,604.53 L197.34,603.51 L197.39,602.50 L197.44,601.48 L197.49,600.46 L197.54,599.45 L197.59,598.43 L197.64,597.42 L197.70,596.40 L197.76,595.39 L197.81,594.38 L197.87,593.36 L197.93,592.35 L197.99,591.34 L198.04,590.33 L198.10,589.32 L198.16,588.31 L198.22,587.30 L198.29,586.29 L198.35,585.27 L198.41,584.26 L198.47,583.25 L198.54,582.24 L198.60,581.23 L198.67,580.22 L198.73,579.21 L198.80,578.20 L198.87,577.18 L198.94,576.16 L199.01,575.13 L199.08,574.09 L199.16,573.05 L199.23,572.00 L199.31,570.96 L199.38,569.92 L199.46,568.88 L199.54,567.85 L199.61,566.82 L199.69,565.81 L199.76,564.80 L199.83,563.81 L199.90,562.83 L199.97,561.87 L200.04,560.92 L200.10,560.00 L200.17,558.88 L200.24,557.79 L200.30,556.72 L200.36,555.67 L200.42,554.64 L200.47,553.62 L200.53,552.61 L200.59,551.61 L200.66,550.61 L200.73,549.61 L200.81,548.61 L200.90,547.60 L201.00,546.53 L201.11,545.47 L201.21,544.40 L201.33,543.34 L201.45,542.29 L201.57,541.24 L201.70,540.19 L201.84,539.16 L201.98,538.13 L202.14,537.11 L202.30,536.10 L202.48,535.07 L202.66,534.04 L202.85,533.02 L203.05,532.01 L203.26,531.00 L203.47,530.01 L203.70,529.03 L203.92,528.07 L204.16,527.12 L204.40,526.20 L204.70,525.08 L205.00,523.99 L205.31,522.93 L205.64,521.89 L205.99,520.86 L206.37,519.83 L206.80,518.80 L207.23,517.85 L207.68,516.90 L208.17,515.94 L208.67,515.00 L209.20,514.06 L209.75,513.15 L210.32,512.26 L210.90,511.40 L211.55,510.49 L212.23,509.59 L212.94,508.72 L213.66,507.87 L214.40,507.06 L215.14,506.30 L215.90,505.60 L216.83,504.81 L217.75,504.10 L218.71,503.46 L219.72,502.86 L220.80,502.30 L221.76,501.86 L222.77,501.44 L223.82,501.05 L224.91,500.69 L226.04,500.38 L227.20,500.11 L228.40,499.90 L229.35,499.76 L230.35,499.64 L231.39,499.54 L232.45,499.46 L233.54,499.41 L234.62,499.39 L235.71,499.41 L236.78,499.46 L237.83,499.56 L238.84,499.70 L239.80,499.90 L240.83,500.18 L241.83,500.51 L242.81,500.90 L243.76,501.34 L244.69,501.83 L245.61,502.36 L246.51,502.93 L247.41,503.55 L248.30,504.20 L249.06,504.80 L249.81,505.45 L250.56,506.14 L251.29,506.86 L252.02,507.62 L252.73,508.40 L253.44,509.21 L254.14,510.03 L254.82,510.87 L255.49,511.71 L256.15,512.56 L256.80,513.40 L257.40,514.22 L257.98,515.08 L258.53,515.97 L259.07,516.88 L259.60,517.80 L260.12,518.73 L260.64,519.66 L261.16,520.58 L261.68,521.48 L262.22,522.36 L262.76,523.22 L263.32,524.03 L263.90,524.80 L264.58,525.68 L265.30,526.62 L266.03,527.59 L266.78,528.55 L267.53,529.45 L268.27,530.27 L269.00,530.96 L269.70,531.48 L270.37,531.81 L271.00,531.90 L271.71,531.67 L272.38,531.12 L273.02,530.34 L273.63,529.38 L274.21,528.32 L274.77,527.24 L275.30,526.20 L275.70,525.30 L276.06,524.21 L276.40,522.99 L276.72,521.71 L277.02,520.41 L277.31,519.15 L277.60,517.99 L277.89,516.99 L278.18,516.21 L278.48,515.69 L278.80,515.50 L279.17,515.72 L279.53,516.33 L279.89,517.26 L280.25,518.42 L280.62,519.72 L281.00,521.10 L281.40,522.46 L281.84,523.72 L282.30,524.80 L282.78,525.79 L283.27,526.87 L283.78,527.99 L284.31,529.09 L284.86,530.13 L285.43,531.05 L286.03,531.80 L286.65,532.34 L287.30,532.60 L288.03,532.57 L288.82,532.26 L289.64,531.73 L290.49,531.04 L291.33,530.22 L292.16,529.34 L292.96,528.45 L293.70,527.60 L294.29,526.86 L294.84,526.05 L295.36,525.18 L295.86,524.27 L296.35,523.32 L296.82,522.36 L297.30,521.39 L297.79,520.43 L298.30,519.49 L298.83,518.57 L299.40,517.70 L299.99,516.86 L300.59,516.02 L301.20,515.18 L301.83,514.35 L302.47,513.53 L303.12,512.72 L303.78,511.94 L304.45,511.18 L305.13,510.45 L305.81,509.76 L306.50,509.10 L307.34,508.37 L308.20,507.69 L309.07,507.07 L309.95,506.48 L310.84,505.91 L311.75,505.35 L312.67,504.79 L313.60,504.20 L314.50,503.61 L315.42,503.00 L316.35,502.38 L317.30,501.76 L318.25,501.16 L319.21,500.59 L320.17,500.06 L321.14,499.60 L322.10,499.20 L323.09,498.85 L324.11,498.54 L325.14,498.27 L326.17,498.04 L327.18,497.87 L328.17,497.77 L329.11,497.75 L330.00,497.80 L331.07,498.03 L332.06,498.42 L333.01,498.90 L333.94,499.42 L334.90,499.90 L335.90,500.36 L336.91,500.82 L337.91,501.29 L338.91,501.79 L339.90,502.30 L340.91,502.84 L341.93,503.41 L342.94,503.99 L343.90,504.59 L344.80,505.20 L345.70,505.87 L346.53,506.55 L347.33,507.28 L348.10,508.10 L348.81,508.97 L349.50,509.93 L350.16,510.94 L350.80,511.98 L351.40,513.00 L351.96,513.97 L352.48,514.94 L352.98,515.93 L353.45,516.94 L353.90,518.00 L354.28,519.01 L354.64,520.06 L354.98,521.13 L355.30,522.23 L355.60,523.35 L355.90,524.50 L356.14,525.48 L356.38,526.50 L356.60,527.53 L356.82,528.58 L357.02,529.64 L357.22,530.70 L357.41,531.76 L357.60,532.80 L357.77,533.82 L357.94,534.82 L358.10,535.83 L358.25,536.83 L358.39,537.84 L358.53,538.87 L358.67,539.92 L358.80,541.00 L358.92,542.02 L359.03,543.07 L359.14,544.15 L359.24,545.24 L359.34,546.34 L359.43,547.45 L359.53,548.54 L359.62,549.62 L359.71,550.68 L359.80,551.70 L359.89,552.77 L359.98,553.77 L360.07,554.75 L360.15,555.71 L360.23,556.70 L360.32,557.72 L360.40,558.82 L360.50,560.00 L360.57,560.84 L360.64,561.71 L360.71,562.62 L360.78,563.57 L360.86,564.54 L360.94,565.54 L361.02,566.57 L361.10,567.60 L361.18,568.66 L361.26,569.72 L361.34,570.80 L361.42,571.87 L361.51,572.95 L361.59,574.02 L361.67,575.08 L361.75,576.14 L361.82,577.18 L361.90,578.20 L361.98,579.21 L362.05,580.22 L362.13,581.23 L362.20,582.24 L362.28,583.25 L362.36,584.26 L362.43,585.27 L362.51,586.29 L362.58,587.30 L362.66,588.31 L362.73,589.32 L362.80,590.33 L362.87,591.34 L362.94,592.35 L363.01,593.36 L363.07,594.38 L363.14,595.39 L363.20,596.40 L363.26,597.42 L363.32,598.43 L363.37,599.45 L363.43,600.46 L363.48,601.48 L363.53,602.50 L363.58,603.51 L363.63,604.53 L363.68,605.55 L363.72,606.57 L363.77,607.58 L363.81,608.60 L363.86,609.62 L363.91,610.64 L363.95,611.65 L364.00,612.67 L364.05,613.68 L364.10,614.70 L364.15,615.71 L364.20,616.72 L364.25,617.74 L364.31,618.75 L364.36,619.76 L364.41,620.77 L364.46,621.78 L364.52,622.79 L364.57,623.80 L364.62,624.81 L364.67,625.82 L364.72,626.83 L364.77,627.85 L364.82,628.86 L364.87,629.87 L364.91,630.88 L364.96,631.89 L365.00,632.90 L365.04,633.91 L365.08,634.92 L365.12,635.93 L365.16,636.94 L365.19,637.96 L365.23,638.97 L365.26,639.98 L365.29,640.99 L365.32,642.00 L365.36,643.01 L365.39,644.02 L365.42,645.03 L365.45,646.04 L365.48,647.06 L365.51,648.07 L365.54,649.08 L365.57,650.09 L365.60,651.10 L365.63,652.10 L365.66,653.10 L365.69,654.08 L365.72,655.05 L365.75,656.02 L365.78,656.99 L365.81,657.96 L365.84,658.93 L365.87,659.90 L365.89,660.89 L365.92,661.88 L365.95,662.88 L365.98,663.90 L366.00,664.94 L366.03,665.99 L366.05,667.07 L366.08,668.17 L366.10,669.30 L366.12,670.23 L366.13,671.24 L366.15,672.32 L366.16,673.47 L366.17,674.66 L366.18,675.91 L366.19,677.20 L366.20,678.51 L366.21,679.86 L366.22,681.21 L366.23,682.58 L366.24,683.95 L366.25,685.31 L366.26,686.66 L366.26,687.99 L366.27,689.28 L366.28,690.54 L366.29,691.76 L366.30,692.92 L366.31,694.02 L366.33,695.05 L366.34,696.01 L366.35,696.88 L366.37,697.66 L366.39,698.34 L366.41,698.92 L366.43,699.38 L366.45,699.72 L366.47,699.93 L366.50,700.00 L366.55,699.84 L366.60,699.39 L366.65,698.69 L366.71,697.77 L366.77,696.68 L366.83,695.46 L366.89,694.14 L366.96,692.77 L367.02,691.38 L367.08,690.01 L367.14,688.70 L367.20,687.50 L367.25,686.57 L367.29,685.63 L367.33,684.66 L367.38,683.68 L367.42,682.69 L367.47,681.69 L367.51,680.67 L367.55,679.65 L367.60,678.61 L367.64,677.58 L367.68,676.54 L367.73,675.49 L367.77,674.45 L367.82,673.41 L367.86,672.37 L367.91,671.34 L367.95,670.32 L368.00,669.30 L368.05,668.29 L368.09,667.28 L368.14,666.27 L368.19,665.26 L368.23,664.24 L368.28,663.23 L368.33,662.22 L368.38,661.21 L368.43,660.20 L368.47,659.19 L368.52,658.18 L368.57,657.17 L368.63,656.15 L368.68,655.14 L368.73,654.13 L368.79,653.12 L368.84,652.11 L368.90,651.10 L368.96,650.09 L369.02,649.08 L369.08,648.07 L369.14,647.05 L369.21,646.04 L369.27,645.03 L369.34,644.02 L369.41,643.01 L369.48,642.00 L369.54,640.99 L369.61,639.98 L369.68,638.97 L369.75,637.96 L369.82,636.94 L369.89,635.93 L369.96,634.92 L370.03,633.91 L370.10,632.90 L370.17,631.89 L370.24,630.88 L370.31,629.87 L370.38,628.86 L370.45,627.85 L370.52,626.83 L370.59,625.82 L370.66,624.81 L370.73,623.80 L370.80,622.79 L370.88,621.78 L370.95,620.77 L371.02,619.76 L371.10,618.75 L371.17,617.74 L371.25,616.72 L371.32,615.71 L371.40,614.70 L371.48,613.68 L371.56,612.67 L371.64,611.65 L371.71,610.63 L371.79,609.62 L371.87,608.60 L371.96,607.58 L372.04,606.57 L372.12,605.55 L372.20,604.53 L372.29,603.51 L372.37,602.50 L372.46,601.48 L372.54,600.46 L372.63,599.45 L372.72,598.43 L372.81,597.42 L372.90,596.40 L372.99,595.39 L373.09,594.38 L373.18,593.36 L373.28,592.35 L373.38,591.34 L373.48,590.33 L373.59,589.32 L373.69,588.31 L373.79,587.30 L373.90,586.29 L374.00,585.28 L374.10,584.26 L374.21,583.25 L374.31,582.24 L374.41,581.23 L374.51,580.22 L374.60,579.21 L374.70,578.20 L374.79,577.18 L374.89,576.16 L374.98,575.13 L375.08,574.09 L375.17,573.05 L375.26,572.01 L375.36,570.96 L375.45,569.92 L375.54,568.88 L375.63,567.85 L375.72,566.83 L375.81,565.81 L375.89,564.80 L375.98,563.81 L376.06,562.83 L376.14,561.87 L376.22,560.92 L376.30,560.00 L376.39,558.88 L376.48,557.79 L376.55,556.72 L376.63,555.67 L376.70,554.64 L376.78,553.62 L376.85,552.61 L376.93,551.61 L377.01,550.61 L377.10,549.61 L377.19,548.61 L377.30,547.60 L377.42,546.53 L377.54,545.46 L377.67,544.39 L377.80,543.32 L377.94,542.26 L378.08,541.20 L378.23,540.16 L378.39,539.12 L378.55,538.10 L378.72,537.09 L378.90,536.10 L379.10,535.04 L379.30,534.00 L379.51,532.97 L379.73,531.97 L379.95,530.97 L380.19,529.97 L380.44,528.99 L380.71,528.00 L381.00,527.00 L381.31,525.98 L381.63,524.96 L381.97,523.94 L382.33,522.92 L382.69,521.91 L383.07,520.91 L383.47,519.92 L383.88,518.95 L384.30,518.00 L384.76,517.02 L385.23,516.05 L385.72,515.09 L386.22,514.15 L386.74,513.23 L387.27,512.33 L387.83,511.46 L388.40,510.60 L389.04,509.70 L389.70,508.81 L390.37,507.95 L391.07,507.11 L391.79,506.31 L392.53,505.53 L393.30,504.80 L394.08,504.13 L394.89,503.49 L395.73,502.88 L396.58,502.30 L397.43,501.75 L398.28,501.21 L399.10,500.70 L400.08,500.10 L401.04,499.56 L401.99,499.04 L402.97,498.53 L404.00,498.00 L404.91,497.49 L405.87,496.91 L406.87,496.30 L407.87,495.72 L408.84,495.25 L409.76,494.92 L410.60,494.80 L411.81,495.13 L412.89,495.83 L414.00,496.50 L415.22,497.10 L416.48,497.66 L417.70,497.90 L418.79,497.62 L419.85,497.03 L421.00,496.50 L422.14,496.20 L423.37,495.97 L424.61,495.72 L425.80,495.40 L426.86,494.97 L427.87,494.48 L428.90,493.97 L430.00,493.50 L430.92,493.16 L431.90,492.80 L432.90,492.46 L433.92,492.16 L434.92,491.93 L435.90,491.80 L436.94,491.82 L437.96,491.97 L438.97,492.18 L439.98,492.38 L441.00,492.50 L442.01,492.49 L443.00,492.40 L444.01,492.30 L445.03,492.25 L446.10,492.30 L447.08,492.49 L448.11,492.80 L449.18,493.17 L450.25,493.57 L451.30,493.92 L452.29,494.18 L453.20,494.30 L454.54,494.13 L455.76,493.76 L457.00,493.50 L458.05,493.49 L459.13,493.58 L460.22,493.70 L461.30,493.80" fill="none" stroke="#3b3b3b" stroke-width="5.2" stroke-linejoin="round" stroke-linecap="round"/>
<line x1="65.50" y1="410.00" x2="65.50" y2="772.20" stroke="#111" stroke-width="2" stroke-linecap="butt"/>
<line x1="64.50" y1="771.20" x2="464.30" y2="771.20" stroke="#111" stroke-width="2" stroke-linecap="butt"/>
<line x1="264.00" y1="771.20" x2="264.00" y2="766.50" stroke="#111" stroke-width="2" stroke-linecap="butt"/>
<line x1="463.30" y1="771.20" x2="463.30" y2="766.50" stroke="#111" stroke-width="2" stroke-linecap="butt"/>
<text transform="translate(27.32,809.70) scale(0.9949,1)" font-family="'Liberation Sans', sans-serif" font-size="33.66" fill="#222">2865</text>
<text transform="translate(225.70,809.70) scale(1.0019,1)" font-family="'Liberation Sans', sans-serif" font-size="33.66" fill="#222">2870</text>
<text transform="translate(424.32,809.70) scale(0.9949,1)" font-family="'Liberation Sans', sans-serif" font-size="33.66" fill="#222">2875</text>
<text transform="translate(148.88,843.50) scale(1.0191,1)" font-family="'Liberation Sans', sans-serif" font-size="32.56" fill="#000">Frequency (MHz)</text>
<text transform="translate(43.20,697.89) rotate(-90) scale(0.9898,1)" font-family="'Liberation Sans', sans-serif" font-size="33.67" fill="#000">Contrast(a.u.)</text>
<rect x="95.30" y="725.70" width="2.60" height="26.20" fill="#000"/>
<line x1="112.05" y1="727.70" x2="112.05" y2="745.70" stroke="#000" stroke-width="2.2" stroke-linecap="butt"/>
<line x1="103.10" y1="736.90" x2="121.00" y2="736.90" stroke="#000" stroke-width="2.2" stroke-linecap="butt"/>
<line x1="103.10" y1="748.80" x2="121.00" y2="748.80" stroke="#000" stroke-width="2.3" stroke-linecap="butt"/>
<text transform="translate(123.08,747.00) scale(1.0648,1)" font-family="'Liberation Serif', serif" font-size="30.14" fill="#000" stroke="#000" stroke-width="0.15">1</text>
<text transform="translate(139.38,752.79) scale(1.2272,1)" font-family="'Liberation Serif', serif" font-style="italic" font-size="21.62" fill="#000" stroke="#000" stroke-width="0.55">s</text>
<text transform="translate(156.83,745.77) scale(0.8623,1)" font-family="'Liberation Serif', serif" font-size="32.71" fill="#000">,</text>
<line x1="178.80" y1="727.70" x2="178.80" y2="745.70" stroke="#000" stroke-width="2.2" stroke-linecap="butt"/>
<line x1="170.10" y1="736.90" x2="187.50" y2="736.90" stroke="#000" stroke-width="2.2" stroke-linecap="butt"/>
<line x1="170.10" y1="748.80" x2="187.50" y2="748.80" stroke="#000" stroke-width="2.3" stroke-linecap="butt"/>
<text transform="translate(189.03,747.00) scale(1.0460,1)" font-family="'Liberation Serif', serif" font-size="30.14" fill="#000" stroke="#000" stroke-width="0.15">1</text>
<text transform="translate(206.07,752.90) scale(0.8836,1)" font-family="'Liberation Serif', serif" font-style="italic" font-size="20.77" fill="#000" stroke="#000" stroke-width="0.55">I</text>
<polyline points="217.90,726.70 222.80,738.70 217.90,750.80" fill="none" stroke="#000" stroke-width="2.4" stroke-linejoin="round" stroke-linecap="round" stroke-linecap="butt" stroke-linejoin="miter"/>
<rect x="303.30" y="726.70" width="2.60" height="26.20" fill="#000"/>
<line x1="320.05" y1="728.70" x2="320.05" y2="746.70" stroke="#000" stroke-width="2.2" stroke-linecap="butt"/>
<line x1="311.10" y1="737.90" x2="329.00" y2="737.90" stroke="#000" stroke-width="2.2" stroke-linecap="butt"/>
<line x1="311.10" y1="749.80" x2="329.00" y2="749.80" stroke="#000" stroke-width="2.3" stroke-linecap="butt"/>
<text transform="translate(331.08,748.00) scale(1.0648,1)" font-family="'Liberation Serif', serif" font-size="30.14" fill="#000" stroke="#000" stroke-width="0.15">1</text>
<text transform="translate(347.38,753.79) scale(1.2272,1)" font-family="'Liberation Serif', serif" font-style="italic" font-size="21.62" fill="#000" stroke="#000" stroke-width="0.55">s</text>
<text transform="translate(364.83,746.77) scale(0.8623,1)" font-family="'Liberation Serif', serif" font-size="32.71" fill="#000">,</text>
<line x1="386.80" y1="731.20" x2="386.80" y2="748.40" stroke="#000" stroke-width="2.2" stroke-linecap="butt"/>
<line x1="378.10" y1="739.80" x2="395.50" y2="739.80" stroke="#000" stroke-width="2.2" stroke-linecap="butt"/>
<line x1="378.10" y1="727.80" x2="395.50" y2="727.80" stroke="#000" stroke-width="2.3" stroke-linecap="butt"/>
<text transform="translate(397.03,748.00) scale(1.0460,1)" font-family="'Liberation Serif', serif" font-size="30.14" fill="#000" stroke="#000" stroke-width="0.15">1</text>
<text transform="translate(414.07,753.90) scale(0.8836,1)" font-family="'Liberation Serif', serif" font-style="italic" font-size="20.77" fill="#000" stroke="#000" stroke-width="0.55">I</text>
<polyline points="425.90,727.70 430.80,739.70 425.90,751.80" fill="none" stroke="#000" stroke-width="2.4" stroke-linejoin="round" stroke-linecap="round" stroke-linecap="butt" stroke-linejoin="miter"/>
<rect x="238.50" y="583.50" width="2.60" height="26.20" fill="#000"/>
<line x1="255.25" y1="585.50" x2="255.25" y2="603.50" stroke="#000" stroke-width="2.2" stroke-linecap="butt"/>
<line x1="246.30" y1="594.70" x2="264.20" y2="594.70" stroke="#000" stroke-width="2.2" stroke-linecap="butt"/>
<line x1="246.30" y1="606.60" x2="264.20" y2="606.60" stroke="#000" stroke-width="2.3" stroke-linecap="butt"/>
<text transform="translate(266.28,604.80) scale(1.0648,1)" font-family="'Liberation Serif', serif" font-size="30.14" fill="#000" stroke="#000" stroke-width="0.15">1</text>
<text transform="translate(282.58,610.59) scale(1.2272,1)" font-family="'Liberation Serif', serif" font-style="italic" font-size="21.62" fill="#000" stroke="#000" stroke-width="0.55">s</text>
<text transform="translate(300.03,603.57) scale(0.8623,1)" font-family="'Liberation Serif', serif" font-size="32.71" fill="#000">,</text>
<text transform="translate(310.54,604.81) scale(0.9489,1)" font-family="'Liberation Serif', serif" font-size="29.34" fill="#000" stroke="#000" stroke-width="0.15">0</text>
<text transform="translate(326.97,610.00) scale(0.9367,1)" font-family="'Liberation Serif', serif" font-style="italic" font-size="20.16" fill="#000" stroke="#000" stroke-width="0.55">I</text>
<polyline points="338.50,584.50 343.70,596.50 338.50,608.60" fill="none" stroke="#000" stroke-width="2.4" stroke-linejoin="round" stroke-linecap="round" stroke-linecap="butt" stroke-linejoin="miter"/>
<rect x="577" y="465.3" width="363.4" height="278.3" fill="none" stroke="#111" stroke-width="2"/>
<line x1="577.00" y1="499.90" x2="581.50" y2="499.90" stroke="#111" stroke-width="2" stroke-linecap="butt"/>
<line x1="935.90" y1="499.90" x2="940.40" y2="499.90" stroke="#111" stroke-width="2" stroke-linecap="butt"/>
<line x1="577.00" y1="638.20" x2="581.50" y2="638.20" stroke="#111" stroke-width="2" stroke-linecap="butt"/>
<line x1="935.90" y1="638.20" x2="940.40" y2="638.20" stroke="#111" stroke-width="2" stroke-linecap="butt"/>
<line x1="758.70" y1="743.60" x2="758.70" y2="739.10" stroke="#111" stroke-width="2" stroke-linecap="butt"/>
<line x1="758.70" y1="465.30" x2="758.70" y2="469.80" stroke="#111" stroke-width="2" stroke-linecap="butt"/>
<polyline points="577.00,617.63 578.00,619.00 579.00,621.07 580.00,622.48 581.00,621.69 582.00,621.17 583.00,623.17 584.00,626.00 585.00,628.23 586.00,629.62 587.00,629.57 588.00,629.69 589.00,630.99 590.00,631.63 591.00,632.20 592.00,633.49 593.00,634.70 594.00,634.62 595.00,635.37 596.00,637.33 597.00,639.02 598.00,640.31 599.00,642.36 600.00,645.48 601.00,648.37 602.00,650.28 603.00,652.10 604.00,653.38 605.00,653.43 606.00,655.02 607.00,657.57 608.00,659.66 609.00,662.02 610.00,664.41 611.00,665.97 612.00,667.56 613.00,668.92 614.00,671.70 615.00,674.87 616.00,676.38 617.00,678.32 618.00,680.23 619.00,681.65 620.00,683.73 621.00,685.73 622.00,687.37 623.00,688.16 624.00,689.14 625.00,691.11 626.00,693.64 627.00,696.02 628.00,697.42 629.00,698.89 630.00,701.12 631.00,703.44 632.00,705.09 633.00,706.96 634.00,707.54 635.00,709.14 636.00,711.46 637.00,712.37 638.00,712.34 639.00,712.73 640.00,713.24 641.00,714.26 642.00,714.36 643.00,713.94 644.00,714.25 645.00,714.28 646.00,714.44 647.00,714.55 648.00,714.58 649.00,715.17 650.00,715.57 651.00,715.80 652.00,715.81 653.00,714.65 654.00,713.60 655.00,713.91 656.00,714.42 657.00,714.46 658.00,714.56 659.00,714.27 660.00,713.33 661.00,712.48 662.00,712.12 663.00,712.50 664.00,711.59 665.00,710.28 666.00,709.85 667.00,710.52 668.00,711.40 669.00,710.30 670.00,708.41 671.00,708.37 672.00,708.71 673.00,708.46 674.00,707.42 675.00,706.19 676.00,705.45 677.00,703.79 678.00,702.08 679.00,702.02 680.00,702.53 681.00,703.43 682.00,703.31 683.00,702.36 684.00,702.63 685.00,702.58 686.00,701.56 687.00,701.43 688.00,702.73 689.00,703.16 690.00,701.80 691.00,700.26 692.00,700.36 693.00,699.55 694.00,698.06 695.00,696.66 696.00,695.19 697.00,694.27 698.00,692.51 699.00,690.15 700.00,687.28 701.00,683.26 702.00,679.06 703.00,676.62 704.00,674.80 705.00,673.07 706.00,672.81 707.00,672.78 708.00,672.19 709.00,672.37 710.00,671.58 711.00,669.65 712.00,669.10 713.00,668.76 714.00,666.72 715.00,665.09 716.00,664.27 717.00,663.22 718.00,662.89 719.00,663.26 720.00,662.99 721.00,662.76 722.00,662.15 723.00,660.97 724.00,660.36 725.00,659.63 726.00,658.47 727.00,657.30 728.00,656.34 729.00,654.95 730.00,653.98 731.00,653.20 732.00,651.47 733.00,648.81 734.00,647.26 735.00,646.62 736.00,646.06 737.00,644.92 738.00,642.75 739.00,641.46 740.00,641.01 741.00,640.49 742.00,638.68 743.00,635.77 744.00,633.87 745.00,632.61 746.00,631.94 747.00,630.44 748.00,628.28 749.00,626.69 750.00,625.96 751.00,624.76 752.00,622.54 753.00,621.11 754.00,620.21 755.00,619.14 756.00,617.73 757.00,615.79 758.00,614.07 759.00,612.70 760.00,612.90 761.00,612.23 762.00,609.86 763.00,609.33 764.00,609.41 765.00,607.76 766.00,606.19 767.00,606.13 768.00,605.24 769.00,605.05 770.00,603.68 771.00,602.50 772.00,602.13 773.00,601.70 774.00,601.23 775.00,600.25 776.00,599.20 777.00,598.69 778.00,597.36 779.00,595.59 780.00,593.99 781.00,592.54 782.00,591.49 783.00,590.78 784.00,589.70 785.00,588.66 786.00,587.97 787.00,586.80 788.00,586.22 789.00,585.36 790.00,583.75 791.00,583.62 792.00,583.81 793.00,582.65 794.00,582.16 795.00,581.15 796.00,580.64 797.00,579.74 798.00,579.31 799.00,579.22 800.00,579.36 801.00,580.06 802.00,580.16 803.00,579.75 804.00,579.53 805.00,579.96 806.00,579.56 807.00,578.37 808.00,577.54 809.00,578.07 810.00,578.14 811.00,577.56 812.00,576.97 813.00,575.77 814.00,574.11 815.00,573.16 816.00,572.15 817.00,570.65 818.00,568.84 819.00,567.44 820.00,566.97 821.00,567.13 822.00,566.32 823.00,563.78 824.00,562.23 825.00,562.21 826.00,562.23 827.00,562.62 828.00,562.94 829.00,562.79 830.00,563.56 831.00,564.39 832.00,565.09 833.00,565.32 834.00,565.19 835.00,564.80 836.00,563.04 837.00,562.06 838.00,561.45 839.00,560.86 840.00,560.00 841.00,558.90 842.00,558.81 843.00,557.97 844.00,556.49 845.00,555.00 846.00,552.81 847.00,551.30 848.00,551.85 849.00,552.09 850.00,551.15 851.00,549.86 852.00,550.04 853.00,551.00 854.00,550.54 855.00,549.52 856.00,548.76 857.00,548.99 858.00,549.13 859.00,548.29 860.00,547.21 861.00,546.72 862.00,546.13 863.00,546.33 864.00,546.73 865.00,546.39 866.00,546.76 867.00,547.52 868.00,547.20 869.00,547.02 870.00,546.28 871.00,545.73 872.00,546.06 873.00,545.64 874.00,544.67 875.00,545.01 876.00,546.20 877.00,546.86 878.00,545.78 879.00,545.20 880.00,545.03 881.00,544.24 882.00,543.74 883.00,544.20 884.00,543.02 885.00,541.10 886.00,542.06 887.00,543.07 888.00,543.56 889.00,543.98 890.00,545.31 891.00,546.95 892.00,547.79 893.00,547.97 894.00,547.53 895.00,546.97 896.00,545.97 897.00,545.01 898.00,545.45 899.00,544.38 900.00,543.15 901.00,542.23 902.00,540.68 903.00,538.56 904.00,537.76 905.00,536.29 906.00,534.71 907.00,533.29 908.00,533.08 909.00,533.77 910.00,533.31 911.00,532.72 912.00,531.98 913.00,530.94 914.00,530.35 915.00,529.91 916.00,529.45 917.00,528.63 918.00,529.40 919.00,530.60 920.00,530.91 921.00,530.42 922.00,529.20 923.00,528.21 924.00,528.60 925.00,528.45 926.00,527.44 927.00,526.49 928.00,527.07 929.00,527.63 930.00,526.86 931.00,525.84 932.00,525.51 933.00,525.08 934.00,524.95 935.00,525.03 936.00,524.60 937.00,524.17 938.00,523.80 939.00,522.97 940.00,522.88" fill="none" stroke="#333333" stroke-width="4.6" stroke-linejoin="round" stroke-linecap="round"/>
<polyline points="577.00,615.43 578.00,617.24 579.00,619.05 580.00,620.86 581.00,622.67 582.00,624.48 583.00,626.29 584.00,628.10 585.00,629.90 586.00,631.70 587.00,633.51 588.00,635.31 589.00,637.10 590.00,638.90 591.00,640.70 592.00,642.51 593.00,644.33 594.00,646.15 595.00,647.97 596.00,649.79 597.00,651.60 598.00,653.41 599.00,655.21 600.00,657.00 601.00,658.78 602.00,660.54 603.00,662.28 604.00,664.00 605.00,665.70 606.00,667.39 607.00,669.08 608.00,670.76 609.00,672.44 610.00,674.12 611.00,675.78 612.00,677.42 613.00,679.05 614.00,680.65 615.00,682.24 616.00,683.79 617.00,685.31 618.00,686.80 619.00,688.26 620.00,689.67 621.00,691.06 622.00,692.46 623.00,693.84 624.00,695.22 625.00,696.58 626.00,697.91 627.00,699.23 628.00,700.51 629.00,701.75 630.00,702.95 631.00,704.11 632.00,705.22 633.00,706.27 634.00,707.26 635.00,708.18 636.00,709.07 637.00,709.97 638.00,710.87 639.00,711.76 640.00,712.63 641.00,713.47 642.00,714.28 643.00,715.05 644.00,715.77 645.00,716.43 646.00,717.02 647.00,717.55 648.00,717.99 649.00,718.34 650.00,718.60 651.00,718.80 652.00,718.99 653.00,719.17 654.00,719.34 655.00,719.48 656.00,719.61 657.00,719.72 658.00,719.79 659.00,719.84 660.00,719.86 661.00,719.81 662.00,719.67 663.00,719.46 664.00,719.17 665.00,718.83 666.00,718.45 667.00,718.04 668.00,717.61 669.00,717.17 670.00,716.73 671.00,716.26 672.00,715.74 673.00,715.15 674.00,714.52 675.00,713.83 676.00,713.10 677.00,712.33 678.00,711.53 679.00,710.69 680.00,709.83 681.00,708.95 682.00,708.05 683.00,707.14 684.00,706.23 685.00,705.31 686.00,704.36 687.00,703.37 688.00,702.34 689.00,701.27 690.00,700.16 691.00,699.02 692.00,697.86 693.00,696.66 694.00,695.45 695.00,694.22 696.00,692.97 697.00,691.71 698.00,690.44 699.00,689.17 700.00,687.90 701.00,686.62 702.00,685.31 703.00,683.97 704.00,682.61 705.00,681.23 706.00,679.83 707.00,678.42 708.00,676.99 709.00,675.56 710.00,674.11 711.00,672.66 712.00,671.21 713.00,669.76 714.00,668.31 715.00,666.86 716.00,665.41 717.00,663.94 718.00,662.46 719.00,660.97 720.00,659.48 721.00,657.97 722.00,656.47 723.00,654.96 724.00,653.45 725.00,651.95 726.00,650.45 727.00,648.95 728.00,647.46 729.00,645.99 730.00,644.52 731.00,643.06 732.00,641.60 733.00,640.15 734.00,638.69 735.00,637.24 736.00,635.80 737.00,634.35 738.00,632.92 739.00,631.49 740.00,630.07 741.00,628.65 742.00,627.25 743.00,625.85 744.00,624.47 745.00,623.10 746.00,621.73 747.00,620.38 748.00,619.03 749.00,617.68 750.00,616.35 751.00,615.02 752.00,613.70 753.00,612.39 754.00,611.08 755.00,609.79 756.00,608.50 757.00,607.23 758.00,605.96 759.00,604.70 760.00,603.46 761.00,602.22 762.00,600.98 763.00,599.76 764.00,598.54 765.00,597.33 766.00,596.13 767.00,594.94 768.00,593.75 769.00,592.58 770.00,591.41 771.00,590.25 772.00,589.10 773.00,587.97 774.00,586.84 775.00,585.72 776.00,584.62 777.00,583.52 778.00,582.42 779.00,581.34 780.00,580.26 781.00,579.19 782.00,578.13 783.00,577.08 784.00,576.03 785.00,575.00 786.00,573.98 787.00,572.97 788.00,571.98 789.00,570.99 790.00,570.02 791.00,569.06 792.00,568.11 793.00,567.17 794.00,566.23 795.00,565.31 796.00,564.39 797.00,563.48 798.00,562.59 799.00,561.70 800.00,560.82 801.00,559.95 802.00,559.09 803.00,558.24 804.00,557.40 805.00,556.57 806.00,555.76 807.00,554.94 808.00,554.13 809.00,553.32 810.00,552.52 811.00,551.72 812.00,550.94 813.00,550.16 814.00,549.39 815.00,548.64 816.00,547.90 817.00,547.18 818.00,546.47 819.00,545.78 820.00,545.11 821.00,544.45 822.00,543.82 823.00,543.20 824.00,542.60 825.00,542.00 826.00,541.42 827.00,540.84 828.00,540.28 829.00,539.73 830.00,539.19 831.00,538.66 832.00,538.14 833.00,537.63 834.00,537.13 835.00,536.64 836.00,536.16 837.00,535.69 838.00,535.23 839.00,534.79 840.00,534.35 841.00,533.92 842.00,533.51 843.00,533.10 844.00,532.69 845.00,532.30 846.00,531.91 847.00,531.52 848.00,531.14 849.00,530.76 850.00,530.38 851.00,530.01 852.00,529.64 853.00,529.26 854.00,528.89 855.00,528.52 856.00,528.14 857.00,527.77 858.00,527.41 859.00,527.04 860.00,526.68 861.00,526.32 862.00,525.97 863.00,525.62 864.00,525.28 865.00,524.95 866.00,524.62 867.00,524.30 868.00,523.98 869.00,523.68 870.00,523.38 871.00,523.08 872.00,522.79 873.00,522.51 874.00,522.23 875.00,521.95 876.00,521.68 877.00,521.41 878.00,521.15 879.00,520.89 880.00,520.64 881.00,520.39 882.00,520.14 883.00,519.90 884.00,519.67 885.00,519.44 886.00,519.21 887.00,518.98 888.00,518.75 889.00,518.52 890.00,518.30 891.00,518.08 892.00,517.86 893.00,517.66 894.00,517.45 895.00,517.26 896.00,517.07 897.00,516.89 898.00,516.71 899.00,516.55 900.00,516.40 901.00,516.26 902.00,516.11 903.00,515.98 904.00,515.84 905.00,515.71 906.00,515.59 907.00,515.47 908.00,515.35 909.00,515.23 910.00,515.13 911.00,515.02 912.00,514.92 913.00,514.83 914.00,514.74 915.00,514.66 916.00,514.59 917.00,514.51 918.00,514.44 919.00,514.36 920.00,514.29 921.00,514.22 922.00,514.15 923.00,514.08 924.00,514.02 925.00,513.95 926.00,513.89 927.00,513.83 928.00,513.77 929.00,513.71 930.00,513.66 931.00,513.61 932.00,513.56 933.00,513.52 934.00,513.48 935.00,513.44 936.00,513.40 937.00,513.37 938.00,513.34 939.00,513.32 940.00,513.30" fill="none" stroke="#b9434d" stroke-width="5" stroke-linejoin="round" stroke-linecap="round"/>
<polyline points="577.00,505.28 578.00,510.76 579.00,516.38 580.00,521.94 581.00,526.96 582.00,532.50 583.00,537.80 584.00,542.88 585.00,548.02 586.00,552.60 587.00,557.69 588.00,562.88 589.00,567.04 590.00,571.51 591.00,576.18 592.00,580.80 593.00,584.96 594.00,589.23 595.00,593.14 596.00,597.42 597.00,601.60 598.00,605.69 599.00,609.98 600.00,614.22 601.00,617.80 602.00,621.35 603.00,625.42 604.00,629.01 605.00,632.18 606.00,635.85 607.00,639.03 608.00,642.38 609.00,645.75 610.00,649.26 611.00,652.04 612.00,655.12 613.00,658.29 614.00,661.40 615.00,664.07 616.00,666.26 617.00,669.27 618.00,671.78 619.00,674.45 620.00,676.76 621.00,678.67 622.00,680.92 623.00,683.05 624.00,685.33 625.00,687.53 626.00,688.94 627.00,690.65 628.00,693.01 629.00,694.00 630.00,695.66 631.00,697.17 632.00,698.38 633.00,700.21 634.00,701.52 635.00,702.24 636.00,703.14 637.00,703.93 638.00,704.54 639.00,705.79 640.00,706.35 641.00,707.16 642.00,708.22 643.00,708.81 644.00,708.78 645.00,709.38 646.00,709.58 647.00,709.14 648.00,708.95 649.00,708.94 650.00,708.72 651.00,708.61 652.00,708.96 653.00,708.84 654.00,708.16 655.00,707.59 656.00,706.90 657.00,706.14 658.00,705.26 659.00,704.47 660.00,704.25 661.00,703.29 662.00,702.53 663.00,701.88 664.00,700.35 665.00,699.21 666.00,697.58 667.00,696.49 668.00,695.55 669.00,693.98 670.00,692.24 671.00,690.89 672.00,689.88 673.00,688.25 674.00,687.02 675.00,685.35 676.00,683.51 677.00,681.89 678.00,680.36 679.00,678.40 680.00,676.40 681.00,674.85 682.00,672.91 683.00,671.07 684.00,669.37 685.00,667.45 686.00,665.56 687.00,663.25 688.00,661.08 689.00,659.11 690.00,657.20 691.00,654.90 692.00,652.83 693.00,650.62 694.00,648.52 695.00,646.73 696.00,645.15 697.00,642.42 698.00,640.23 699.00,638.05 700.00,635.82 701.00,633.83 702.00,632.06 703.00,629.52 704.00,627.63 705.00,625.20 706.00,622.53 707.00,620.32 708.00,618.18 709.00,616.01 710.00,614.40 711.00,612.23 712.00,609.98 713.00,607.53 714.00,605.66 715.00,603.58 716.00,602.07 717.00,599.52 718.00,597.41 719.00,595.37 720.00,593.13 721.00,591.09 722.00,589.20 723.00,587.46 724.00,585.19 725.00,583.33 726.00,581.54 727.00,579.41 728.00,577.24 729.00,575.44 730.00,573.84 731.00,572.10 732.00,570.80 733.00,568.94 734.00,567.11 735.00,565.27 736.00,563.92 737.00,562.11 738.00,560.30 739.00,558.97 740.00,558.05 741.00,555.85 742.00,554.16 743.00,553.12 744.00,551.54 745.00,549.83 746.00,548.55 747.00,546.51 748.00,545.13 749.00,543.76 750.00,543.17 751.00,541.97 752.00,541.26 753.00,539.70 754.00,538.34 755.00,536.81 756.00,535.69 757.00,534.95 758.00,534.26 759.00,532.76 760.00,531.54 761.00,531.43 762.00,530.64 763.00,529.36 764.00,528.80 765.00,528.26 766.00,527.34 767.00,525.93 768.00,525.41 769.00,524.72 770.00,524.43 771.00,523.59 772.00,522.66 773.00,522.39 774.00,521.91 775.00,520.81 776.00,520.23 777.00,519.92 778.00,519.52 779.00,518.86 780.00,517.97 781.00,517.53 782.00,517.48 783.00,517.10 784.00,516.32 785.00,516.13 786.00,516.03 787.00,515.06 788.00,514.34 789.00,513.86 790.00,513.68 791.00,513.24 792.00,512.74 793.00,512.18 794.00,511.92 795.00,511.50 796.00,511.01 797.00,510.72 798.00,509.79 799.00,509.77 800.00,509.36 801.00,509.26 802.00,509.13 803.00,508.31 804.00,507.78 805.00,507.58 806.00,507.69 807.00,507.43 808.00,506.80 809.00,506.63 810.00,506.61 811.00,505.92 812.00,505.04 813.00,504.85 814.00,504.80 815.00,504.76 816.00,504.46 817.00,504.59 818.00,504.13 819.00,504.21 820.00,503.67 821.00,503.82 822.00,503.55 823.00,503.69 824.00,503.74 825.00,503.51 826.00,503.02 827.00,502.31 828.00,501.86 829.00,501.37 830.00,502.37 831.00,502.49 832.00,502.14 833.00,501.67 834.00,502.27 835.00,501.58 836.00,501.51 837.00,500.90 838.00,501.06 839.00,501.56 840.00,501.41 841.00,500.80 842.00,500.95 843.00,501.09 844.00,500.45 845.00,500.76 846.00,500.38 847.00,500.72 848.00,500.66 849.00,500.79 850.00,500.42 851.00,500.32 852.00,500.25 853.00,500.09 854.00,500.16 855.00,500.00 856.00,500.13 857.00,500.41 858.00,500.29 859.00,500.56 860.00,500.53 861.00,500.38 862.00,499.91 863.00,500.26 864.00,500.60 865.00,500.52 866.00,500.57 867.00,500.44 868.00,499.73 869.00,500.08 870.00,500.15 871.00,499.84 872.00,499.56 873.00,499.86 874.00,500.00 875.00,500.52 876.00,500.35 877.00,499.76 878.00,499.46 879.00,499.52 880.00,499.70 881.00,499.75 882.00,500.24 883.00,499.60 884.00,499.71 885.00,499.86 886.00,499.86 887.00,499.55 888.00,499.68 889.00,499.85 890.00,499.85 891.00,499.62 892.00,499.67 893.00,499.95 894.00,500.25 895.00,499.62 896.00,500.00 897.00,500.17 898.00,499.59 899.00,500.18 900.00,500.28 901.00,499.96 902.00,500.15 903.00,500.25 904.00,499.84 905.00,499.75 906.00,499.43 907.00,499.50 908.00,499.73 909.00,499.86 910.00,500.20 911.00,499.73 912.00,499.47 913.00,499.99 914.00,500.11 915.00,499.93 916.00,499.69 917.00,499.48 918.00,499.62 919.00,500.19 920.00,500.09 921.00,499.87 922.00,499.85 923.00,499.61 924.00,499.43 925.00,499.54 926.00,499.58 927.00,499.17 928.00,499.09 929.00,499.11 930.00,499.52 931.00,499.77 932.00,499.31 933.00,499.19 934.00,499.15 935.00,499.38 936.00,499.27 937.00,499.26 938.00,499.48 939.00,500.26 940.00,499.79" fill="none" stroke="#4a6497" stroke-width="4.8" stroke-linejoin="round" stroke-linecap="round"/>
<polyline points="706.90,509.10 748.40,533.30" fill="none" stroke="#4a6497" stroke-width="4.2" stroke-linejoin="round" stroke-linecap="round"/>
<polyline points="737.40,515.20 748.90,533.50 726.00,533.50" fill="none" stroke="#4a6497" stroke-width="4.2" stroke-linejoin="round" stroke-linecap="round"/>
<polyline points="859.40,596.50 853.00,536.00" fill="none" stroke="#b9434d" stroke-width="4.2" stroke-linejoin="round" stroke-linecap="round"/>
<polyline points="844.20,556.80 852.90,535.60 866.20,554.10" fill="none" stroke="#b9434d" stroke-width="4.2" stroke-linejoin="round" stroke-linecap="round"/>
<polyline points="770.00,713.10 736.20,651.20" fill="none" stroke="#333333" stroke-width="4.2" stroke-linejoin="round" stroke-linecap="round"/>
<polyline points="736.30,673.30 736.00,651.00 755.60,663.00" fill="none" stroke="#333333" stroke-width="4.2" stroke-linejoin="round" stroke-linecap="round"/>
<text transform="translate(605.66,493.30) scale(0.9750,1)" font-family="'Liberation Sans', sans-serif" font-size="30.52" fill="#4a6497" stroke="#4a6497" stroke-width="0.45">Fit</text>
<text transform="translate(647.75,493.30) scale(1.0852,1)" font-family="'Liberation Sans', sans-serif" font-size="30.52" fill="#4a6497" stroke="#4a6497" stroke-width="0.45">with</text>
<text transform="translate(713.31,493.30) scale(1.0027,1)" font-family="'Liberation Sans', sans-serif" font-size="30.52" fill="#4a6497" stroke="#4a6497" stroke-width="0.45">only</text>
<text transform="translate(779.47,493.30) scale(0.7314,1)" font-family="'Liberation Sans', sans-serif" font-size="30.52" fill="#4a6497" stroke="#4a6497" stroke-width="0.45">E</text>
<text transform="translate(795.39,501.50) scale(0.9471,1)" font-family="'Liberation Sans', sans-serif" font-size="20.04" fill="#4a6497" stroke="#4a6497" stroke-width="0.45">x,y</text>
<text transform="translate(803.32,626.80) scale(1.0252,1)" font-family="'Liberation Sans', sans-serif" font-size="29.51" fill="#b9434d" stroke="#b9434d" stroke-width="0.45">Fit</text>
<text transform="translate(846.45,626.80) scale(1.0910,1)" font-family="'Liberation Sans', sans-serif" font-size="29.51" fill="#b9434d" stroke="#b9434d" stroke-width="0.45">with</text>
<text transform="translate(778.07,655.40) scale(1.0722,1)" font-family="'Liberation Sans', sans-serif" font-size="29.94" fill="#b9434d" stroke="#b9434d" stroke-width="0.45">MW</text>
<text transform="translate(842.76,655.40) scale(1.1006,1)" font-family="'Liberation Sans', sans-serif" font-size="28.71" fill="#b9434d" stroke="#b9434d" stroke-width="0.45">power</text>
<text transform="translate(777.52,683.60) scale(1.0523,1)" font-family="'Liberation Sans', sans-serif" font-size="29.12" fill="#b9434d" stroke="#b9434d" stroke-width="0.45">broadening</text>
<text transform="translate(715.63,736.50) scale(0.9537,1)" font-family="'Liberation Sans', sans-serif" font-size="30.38" fill="#333333" stroke="#333333" stroke-width="0.45">ODMR</text>
<text transform="translate(566.63,781.60) scale(1.0173,1)" font-family="'Liberation Sans', sans-serif" font-size="32.08" fill="#222">0</text>
<text transform="translate(734.99,781.80) scale(1.0477,1)" font-family="'Liberation Sans', sans-serif" font-size="32.08" fill="#222">0.5</text>
<text transform="translate(930.26,781.60) scale(0.8776,1)" font-family="'Liberation Sans', sans-serif" font-size="31.98" fill="#222">1</text>
<text transform="translate(635.04,824.20) scale(1.0734,1)" font-family="'Liberation Sans', sans-serif" font-size="31.40" fill="#000">Detuning (MHz)</text>
</svg></body></html>
